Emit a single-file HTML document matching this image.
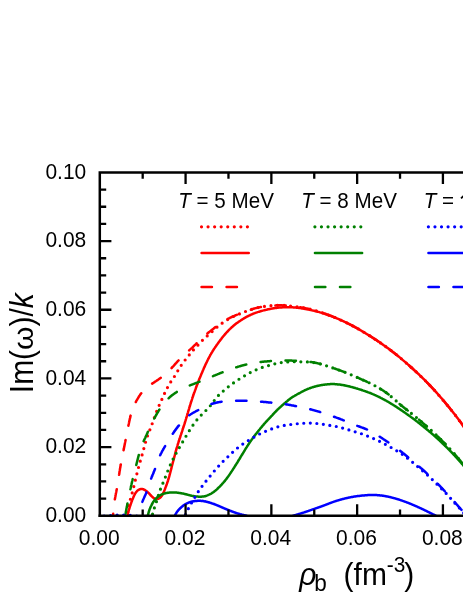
<!DOCTYPE html>
<html><head><meta charset="utf-8"><title>chart</title>
<style>html,body{margin:0;padding:0;background:#fff;overflow:hidden;}svg{display:block;will-change:transform;}</style></head>
<body>
<svg width="463" height="599" viewBox="0 0 463 599">
<rect width="463" height="599" fill="#fff"/>
<defs><clipPath id="cp"><rect x="99.80" y="172.40" width="368.20" height="344.65"/></clipPath></defs>
<g clip-path="url(#cp)">
<path d="M127.5,515.8 L127.6,515.0 L127.6,514.3 L127.7,513.5 L127.8,512.8 L127.8,512.0 L127.9,511.3 L128.0,510.5 L128.1,509.8 L128.2,509.0 L128.3,508.3 L128.4,507.5 L128.5,506.8 L128.7,506.0 L128.8,505.3 L129.0,504.6 L129.1,503.8 L129.3,503.1 L129.5,502.4 L129.7,501.6 L129.9,500.9 L130.1,500.2 L130.3,499.4 L130.6,498.7 L130.8,498.0 L131.0,497.3 L131.2,496.5 L131.4,495.8 L131.6,495.1 L131.8,494.3 L132.0,493.6 L132.2,492.9 L132.4,492.1 L132.6,491.4 L132.7,490.7 L132.9,490.0 L133.1,489.2 L133.3,488.5 L133.5,487.8 L133.7,487.0 L133.9,486.3 L134.0,485.6 L134.2,484.8 L134.4,484.1 L134.6,483.3 L134.7,482.6 L134.9,481.9 L135.1,481.1 L135.3,480.4 L135.4,479.7 L135.6,478.9 L135.8,478.2 L136.0,477.5 L136.2,476.7 L136.3,476.0 L136.5,475.3 L136.7,474.5 L136.9,473.8 L137.1,473.1 L137.2,472.3 L137.4,471.6 L137.6,470.9 L137.8,470.1 L138.0,469.4 L138.2,468.7 L138.4,467.9 L138.6,467.2 L138.8,466.5 L139.0,465.7 L139.2,465.0 L139.4,464.3 L139.6,463.6 L139.8,462.8 L140.0,462.1 L140.2,461.4 L140.4,460.6 L140.6,459.9 L140.8,459.2 L141.0,458.5 L141.2,457.7 L141.5,457.0 L141.7,456.3 L141.9,455.6 L142.1,454.8 L142.3,454.1 L142.5,453.4 L142.7,452.6 L142.9,451.9 L143.1,451.2 L143.3,450.5 L143.5,449.7 L143.7,449.0 L143.9,448.3 L144.1,447.5 L144.3,446.8 L144.5,446.1 L144.7,445.3 L144.9,444.6 L145.1,443.9 L145.3,443.2 L145.5,442.4 L145.7,441.7 L145.9,441.0 L146.1,440.2 L146.4,439.5 L146.6,438.8 L146.8,438.1 L147.0,437.4 L147.3,436.6 L147.5,435.9 L147.8,435.2 L148.0,434.5 L148.3,433.8 L148.6,433.1 L148.8,432.4 L149.1,431.7 L149.4,431.0 L149.7,430.3 L150.0,429.6 L150.2,428.9 L150.5,428.2 L150.8,427.5 L151.1,426.8 L151.3,426.1 L151.6,425.3 L151.9,424.6 L152.1,423.9 L152.4,423.2 L152.7,422.5 L152.9,421.8 L153.2,421.1 L153.4,420.4 L153.7,419.7 L153.9,418.9 L154.2,418.2 L154.4,417.5 L154.7,416.8 L154.9,416.1 L155.2,415.4 L155.4,414.7 L155.7,413.9 L155.9,413.2 L156.2,412.5 L156.5,411.8 L156.8,411.1 L157.0,410.4 L157.3,409.7 L157.6,409.0 L157.9,408.3 L158.2,407.6 L158.5,406.9 L158.8,406.2 L159.1,405.5 L159.4,404.8 L159.7,404.2 L160.0,403.5 L160.3,402.8 L160.6,402.1 L161.0,401.4 L161.3,400.7 L161.6,400.0 L161.9,399.3 L162.2,398.6 L162.5,398.0 L162.8,397.3 L163.2,396.6 L163.5,395.9 L163.8,395.2 L164.1,394.5 L164.4,393.8 L164.7,393.1 L165.0,392.4 L165.3,391.8 L165.7,391.1 L166.0,390.4 L166.3,389.7 L166.7,389.0 L167.0,388.4 L167.4,387.7 L167.7,387.0 L168.1,386.4 L168.5,385.7 L168.8,385.0 L169.2,384.4 L169.6,383.7 L170.0,383.1 L170.4,382.5 L170.8,381.8 L171.2,381.2 L171.7,380.6 L172.1,379.9 L172.5,379.3 L173.0,378.7 L173.4,378.1 L173.8,377.5 L174.2,376.8 L174.6,376.2 L175.0,375.5 L175.4,374.9 L175.8,374.2 L176.2,373.6 L176.6,372.9 L176.9,372.3 L177.3,371.6 L177.7,371.0 L178.1,370.3 L178.4,369.7 L178.8,369.0 L179.2,368.4 L179.6,367.7 L180.1,367.1 L180.5,366.5 L180.9,365.8 L181.3,365.2 L181.8,364.6 L182.2,364.0 L182.6,363.4 L183.1,362.7 L183.5,362.1 L184.0,361.5 L184.4,360.9 L184.9,360.3 L185.4,359.7 L185.8,359.1 L186.3,358.5 L186.8,358.0 L187.3,357.4 L187.7,356.8 L188.2,356.2 L188.7,355.6 L189.2,355.0 L189.7,354.4 L190.1,353.9 L190.6,353.3 L191.1,352.7 L191.6,352.1 L192.0,351.5 L192.5,350.9 L193.0,350.4 L193.5,349.8 L194.0,349.2 L194.5,348.7 L195.0,348.1 L195.5,347.5 L196.1,347.0 L196.6,346.5 L197.1,345.9 L197.7,345.4 L198.2,344.8 L198.7,344.3 L199.2,343.7 L199.8,343.2 L200.3,342.6 L200.8,342.1 L201.3,341.5 L201.8,341.0 L202.4,340.4 L202.9,339.9 L203.4,339.4 L204.0,338.8 L204.5,338.3 L205.1,337.8 L205.6,337.3 L206.2,336.8 L206.8,336.3 L207.3,335.8 L207.9,335.3 L208.5,334.8 L209.0,334.3 L209.6,333.8 L210.2,333.3 L210.7,332.8 L211.3,332.3 L211.9,331.8 L212.4,331.3 L213.0,330.8 L213.5,330.3 L214.1,329.8 L214.7,329.2 L215.2,328.7 L215.8,328.2 L216.4,327.7 L216.9,327.2 L217.5,326.8 L218.1,326.3 L218.7,325.8 L219.3,325.3 L219.8,324.8 L220.4,324.4 L221.1,323.9 L221.7,323.5 L222.3,323.0 L222.9,322.6 L223.5,322.2 L224.1,321.7 L224.8,321.3 L225.4,320.9 L226.1,320.5 L226.7,320.1 L227.4,319.7 L228.0,319.3 L228.7,319.0 L229.3,318.6 L230.0,318.2 L230.7,317.9 L231.3,317.5 L232.0,317.2 L232.7,316.9 L233.4,316.5 L234.1,316.2 L234.7,315.9 L235.4,315.6 L236.1,315.3 L236.8,315.0 L237.5,314.7 L238.2,314.4 L238.9,314.1 L239.6,313.8 L240.3,313.5 L241.0,313.2 L241.7,313.0 L242.4,312.7 L243.1,312.4 L243.8,312.1 L244.5,311.8 L245.2,311.6 L246.0,311.3 L246.7,311.0 L247.4,310.8 L248.1,310.5 L248.8,310.3 L249.5,310.0 L250.2,309.8 L250.9,309.5 L251.7,309.3 L252.4,309.1 L253.1,308.9 L253.8,308.6 L254.6,308.4 L255.3,308.2 L256.0,308.1 L256.8,307.9 L257.5,307.7 L258.2,307.5 L259.0,307.4 L259.7,307.2 L260.5,307.1 L261.2,307.0 L261.9,306.8 L262.7,306.7 L263.4,306.6 L264.2,306.5 L264.9,306.4 L265.7,306.3 L266.4,306.2 L267.2,306.1 L267.9,306.0 L268.7,305.9 L269.5,305.8 L270.2,305.7 L271.0,305.7 L271.7,305.6 L272.5,305.5 L273.2,305.5 L274.0,305.4 L274.7,305.4 L275.5,305.4 L276.3,305.3 L277.0,305.3 L277.8,305.3 L278.5,305.3 L279.3,305.3 L280.0,305.3 L280.8,305.3 L281.5,305.3 L282.3,305.4 L283.1,305.4 L283.8,305.4 L284.6,305.5 L285.3,305.6 L286.1,305.6 L286.8,305.7 L287.6,305.7 L288.3,305.8 L289.1,305.9 L289.8,306.0 L290.6,306.1 L291.3,306.1 L292.1,306.2 L292.8,306.3 L293.6,306.4 L294.4,306.5 L295.1,306.6 L295.9,306.7 L296.6,306.8 L297.4,306.9 L298.1,307.0 L298.9,307.1 L299.6,307.2 L300.4,307.3 L301.1,307.4 L301.8,307.5 L302.6,307.7 L303.3,307.8 L304.1,307.9 L304.8,308.1 L305.6,308.2 L306.3,308.4 L307.0,308.5 L307.8,308.7 L308.5,308.8 L309.3,309.0 L310.0,309.2 L310.7,309.4 L311.5,309.5 L312.2,309.7 L312.9,309.9 L313.7,310.1 L314.4,310.3 L315.1,310.5 L315.8,310.7 L316.6,311.0 L317.3,311.2 L318.0,311.4 L318.7,311.6 L319.5,311.8 L320.2,312.1 L320.9,312.3 L321.6,312.5 L322.3,312.8 L323.1,313.0 L323.8,313.3 L324.5,313.5 L325.2,313.8 L325.9,314.0 L326.6,314.3 L327.3,314.5 L328.1,314.8 L328.8,315.1 L329.5,315.3 L330.2,315.6 L330.9,315.9 L331.6,316.1 L332.3,316.4 L333.0,316.7 L333.7,317.0 L334.4,317.3 L335.1,317.5 L335.8,317.8 L336.5,318.1 L337.2,318.4 L337.9,318.7 L338.6,319.0 L339.3,319.3 L340.0,319.6 L340.6,320.0 L341.3,320.3 L342.0,320.6 L342.7,320.9 L343.4,321.2 L344.1,321.6 L344.8,321.9 L345.4,322.2 L346.1,322.5 L346.8,322.9 L347.5,323.2 L348.2,323.5 L348.8,323.9 L349.5,324.2 L350.2,324.6 L350.9,324.9 L351.5,325.3 L352.2,325.6 L352.9,326.0 L353.5,326.3 L354.2,326.7 L354.9,327.0 L355.5,327.4 L356.2,327.8 L356.9,328.1 L357.5,328.5 L358.2,328.9 L358.8,329.2 L359.5,329.6 L360.1,330.0 L360.8,330.4 L361.4,330.8 L362.1,331.2 L362.7,331.5 L363.4,331.9 L364.0,332.3 L364.7,332.7 L365.3,333.1 L366.0,333.5 L366.6,333.9 L367.3,334.3 L367.9,334.7 L368.6,335.1 L369.2,335.5 L369.8,335.9 L370.5,336.3 L371.1,336.7 L371.8,337.1 L372.4,337.5 L373.0,337.9 L373.7,338.3 L374.3,338.7 L374.9,339.2 L375.6,339.6 L376.2,340.0 L376.8,340.4 L377.4,340.8 L378.1,341.3 L378.7,341.7 L379.3,342.1 L379.9,342.5 L380.6,343.0 L381.2,343.4 L381.8,343.8 L382.4,344.3 L383.0,344.7 L383.7,345.1 L384.3,345.6 L384.9,346.0 L385.5,346.5 L386.1,346.9 L386.7,347.4 L387.3,347.8 L388.0,348.2 L388.6,348.7 L389.2,349.1 L389.8,349.6 L390.4,350.1 L391.0,350.5 L391.6,351.0 L392.2,351.4 L392.8,351.9 L393.4,352.3 L394.0,352.8 L394.6,353.3 L395.2,353.7 L395.8,354.2 L396.4,354.7 L397.0,355.2 L397.5,355.6 L398.1,356.1 L398.7,356.6 L399.3,357.1 L399.9,357.6 L400.5,358.0 L401.0,358.5 L401.6,359.0 L402.2,359.5 L402.8,360.0 L403.3,360.5 L403.9,361.0 L404.5,361.5 L405.1,362.0 L405.6,362.5 L406.2,363.0 L406.8,363.4 L407.4,363.9 L407.9,364.4 L408.5,364.9 L409.1,365.4 L409.6,365.9 L410.2,366.4 L410.8,367.0 L411.3,367.5 L411.9,368.0 L412.4,368.5 L413.0,369.0 L413.6,369.5 L414.1,370.0 L414.7,370.5 L415.2,371.0 L415.8,371.5 L416.3,372.0 L416.9,372.6 L417.5,373.1 L418.0,373.6 L418.6,374.1 L419.1,374.6 L419.6,375.2 L420.2,375.7 L420.7,376.2 L421.3,376.7 L421.8,377.3 L422.4,377.8 L422.9,378.3 L423.4,378.9 L424.0,379.4 L424.5,379.9 L425.1,380.5 L425.6,381.0 L426.1,381.5 L426.6,382.1 L427.2,382.6 L427.7,383.1 L428.2,383.7 L428.8,384.2 L429.3,384.8 L429.8,385.3 L430.3,385.9 L430.8,386.4 L431.4,387.0 L431.9,387.5 L432.4,388.1 L432.9,388.6 L433.4,389.2 L433.9,389.7 L434.5,390.3 L435.0,390.9 L435.5,391.4 L436.0,392.0 L436.5,392.5 L437.0,393.1 L437.5,393.7 L438.0,394.2 L438.5,394.8 L439.0,395.4 L439.5,395.9 L440.0,396.5 L440.5,397.1 L441.0,397.7 L441.5,398.2 L442.0,398.8 L442.5,399.4 L442.9,400.0 L443.4,400.5 L443.9,401.1 L444.4,401.7 L444.9,402.3 L445.4,402.9 L445.9,403.4 L446.3,404.0 L446.8,404.6 L447.3,405.2 L447.8,405.8 L448.3,406.4 L448.7,406.9 L449.2,407.5 L449.7,408.1 L450.2,408.7 L450.6,409.3 L451.1,409.9 L451.6,410.5 L452.1,411.1 L452.5,411.7 L453.0,412.2 L453.5,412.8 L453.9,413.4 L454.4,414.0 L454.9,414.6 L455.3,415.2 L455.8,415.8 L456.3,416.4 L456.7,417.0 L457.2,417.6 L457.6,418.2 L458.1,418.8 L458.5,419.4 L459.0,420.0 L459.4,420.7 L459.9,421.3 L460.4,421.9 L460.8,422.5 L461.2,423.1 L461.7,423.7 L462.1,424.3 L462.6,424.9 L463.0,425.5 L463.5,426.1 L463.9,426.8 L464.3,427.4 L464.8,428.0 L465.2,428.6 L465.7,429.2 L466.1,429.9 L466.5,430.5 L467.0,431.1 L467.4,431.7 L467.8,432.3 L468.2,433.0 L468.7,433.6 L469.1,434.2 L469.5,434.8 L469.9,435.5 L470.4,436.1 L470.8,436.7 L471.2,437.3 L471.6,438.0 L472.1,438.6 L472.5,439.2 L472.9,439.9 L473.3,440.5 L473.7,441.1 L474.2,441.7 L474.6,442.4 L475.0,443.0" fill="none" stroke="#ff0000" stroke-width="3.20" stroke-linejoin="round" stroke-linecap="round" stroke-dasharray="0 6.56" stroke-dashoffset="2.80"/>
<path d="M113.0,515.8 L113.1,515.0 L113.1,514.3 L113.2,513.5 L113.3,512.7 L113.3,511.9 L113.4,511.2 L113.5,510.4 L113.5,509.6 L113.6,508.8 L113.7,508.1 L113.8,507.3 L113.9,506.5 L114.0,505.7 L114.0,505.0 L114.1,504.2 L114.2,503.4 L114.3,502.7 L114.5,501.9 L114.6,501.1 L114.7,500.4 L114.8,499.6 L114.9,498.8 L115.1,498.1 L115.2,497.3 L115.4,496.5 L115.5,495.8 L115.6,495.0 L115.8,494.2 L115.9,493.5 L116.1,492.7 L116.2,492.0 L116.4,491.2 L116.5,490.4 L116.7,489.7 L116.8,488.9 L116.9,488.1 L117.1,487.4 L117.2,486.6 L117.3,485.8 L117.5,485.1 L117.6,484.3 L117.7,483.5 L117.8,482.8 L118.0,482.0 L118.1,481.2 L118.2,480.5 L118.3,479.7 L118.4,478.9 L118.6,478.2 L118.7,477.4 L118.8,476.6 L118.9,475.9 L119.0,475.1 L119.2,474.3 L119.3,473.6 L119.4,472.8 L119.5,472.0 L119.6,471.3 L119.8,470.5 L119.9,469.7 L120.0,469.0 L120.1,468.2 L120.3,467.4 L120.4,466.7 L120.5,465.9 L120.7,465.1 L120.8,464.4 L120.9,463.6 L121.1,462.8 L121.2,462.1 L121.4,461.3 L121.5,460.6 L121.7,459.8 L121.8,459.0 L122.0,458.3 L122.1,457.5 L122.3,456.7 L122.4,456.0 L122.6,455.2 L122.7,454.4 L122.9,453.7 L123.0,452.9 L123.2,452.2 L123.3,451.4 L123.5,450.6 L123.6,449.9 L123.8,449.1 L123.9,448.4 L124.1,447.6 L124.2,446.8 L124.4,446.1 L124.5,445.3 L124.7,444.6 L124.8,443.8 L125.0,443.0 L125.1,442.3 L125.3,441.5 L125.4,440.7 L125.6,440.0 L125.7,439.2 L125.9,438.5 L126.0,437.7 L126.2,436.9 L126.3,436.2 L126.5,435.4 L126.6,434.7 L126.8,433.9 L126.9,433.1 L127.1,432.4 L127.2,431.6 L127.4,430.8 L127.5,430.1 L127.7,429.3 L127.8,428.6 L128.0,427.8 L128.1,427.0 L128.3,426.3 L128.4,425.5 L128.6,424.7 L128.8,424.0 L128.9,423.2 L129.1,422.5 L129.2,421.7 L129.4,420.9 L129.6,420.2 L129.7,419.4 L129.9,418.6 L130.1,417.9 L130.3,417.1 L130.4,416.4 L130.6,415.6 L130.8,414.9 L131.0,414.1 L131.2,413.4 L131.4,412.6 L131.7,411.9 L131.9,411.1 L132.1,410.4 L132.4,409.7 L132.6,408.9 L132.9,408.2 L133.2,407.5 L133.5,406.8 L133.8,406.1 L134.1,405.4 L134.5,404.7 L134.8,404.0 L135.1,403.3 L135.5,402.6 L135.9,401.9 L136.2,401.2 L136.6,400.5 L137.0,399.8 L137.4,399.2 L137.8,398.5 L138.2,397.8 L138.6,397.1 L139.0,396.5 L139.4,395.8 L139.9,395.2 L140.3,394.5 L140.8,393.9 L141.2,393.3 L141.7,392.6 L142.2,392.0 L142.7,391.4 L143.2,390.9 L143.7,390.3 L144.3,389.7 L144.8,389.2 L145.4,388.7 L146.0,388.2 L146.5,387.7 L147.2,387.2 L147.8,386.7 L148.4,386.3 L149.0,385.8 L149.7,385.3 L150.3,384.9 L150.9,384.5 L151.6,384.0 L152.2,383.6 L152.9,383.2 L153.6,382.7 L154.2,382.3 L154.9,381.9 L155.5,381.4 L156.2,381.0 L156.8,380.6 L157.5,380.1 L158.1,379.7 L158.7,379.3 L159.4,378.8 L160.0,378.4 L160.6,377.9 L161.3,377.4 L161.9,377.0 L162.5,376.5 L163.1,376.0 L163.7,375.5 L164.3,375.1 L164.9,374.5 L165.5,374.0 L166.0,373.5 L166.6,373.0 L167.2,372.5 L167.8,371.9 L168.3,371.4 L168.9,370.8 L169.4,370.3 L170.0,369.7 L170.5,369.2 L171.0,368.6 L171.6,368.0 L172.1,367.5 L172.6,366.9 L173.2,366.3 L173.7,365.8 L174.2,365.2 L174.7,364.6 L175.2,364.0 L175.8,363.4 L176.3,362.9 L176.8,362.3 L177.3,361.7 L177.8,361.1 L178.4,360.6 L178.9,360.0 L179.4,359.4 L180.0,358.9 L180.5,358.3 L181.0,357.7 L181.6,357.2 L182.1,356.6 L182.7,356.1 L183.3,355.6 L183.8,355.1 L184.4,354.5 L185.0,354.0 L185.6,353.5 L186.2,353.0 L186.8,352.5 L187.3,352.0 L187.9,351.5 L188.5,351.0 L189.1,350.5 L189.7,349.9 L190.3,349.4 L190.8,348.9 L191.4,348.4 L192.0,347.9 L192.6,347.3 L193.1,346.8 L193.7,346.2 L194.2,345.7 L194.8,345.1 L195.3,344.6 L195.9,344.1 L196.4,343.5 L197.0,343.0 L197.5,342.4 L198.1,341.9 L198.6,341.3 L199.2,340.8 L199.7,340.2 L200.3,339.7 L200.9,339.1 L201.4,338.6 L202.0,338.1 L202.6,337.6 L203.2,337.1 L203.7,336.5 L204.3,336.0 L204.9,335.5 L205.5,335.0 L206.1,334.5 L206.7,334.0 L207.3,333.5 L207.9,333.0 L208.5,332.5 L209.1,332.1 L209.7,331.6 L210.3,331.1 L210.9,330.6 L211.5,330.1 L212.1,329.6 L212.7,329.2 L213.4,328.7 L214.0,328.2 L214.6,327.7 L215.2,327.2 L215.8,326.8 L216.4,326.3 L217.1,325.8 L217.7,325.4 L218.3,324.9 L219.0,324.5 L219.6,324.0 L220.2,323.6 L220.9,323.1 L221.5,322.7 L222.2,322.3 L222.8,321.9 L223.5,321.4 L224.1,321.0 L224.8,320.6 L225.5,320.2 L226.2,319.9 L226.8,319.5 L227.5,319.1 L228.2,318.7 L228.9,318.4 L229.6,318.0 L230.3,317.7 L231.0,317.3 L231.7,317.0 L232.4,316.7 L233.1,316.4 L233.8,316.1 L234.5,315.8 L235.2,315.5 L235.9,315.2 L236.7,314.9 L237.4,314.6 L238.1,314.3 L238.8,314.0 L239.6,313.7 L240.3,313.5 L241.0,313.2 L241.8,312.9 L242.5,312.6 L243.2,312.4 L243.9,312.1 L244.7,311.8 L245.4,311.5 L246.1,311.3 L246.9,311.0 L247.6,310.7 L248.3,310.5 L249.0,310.2 L249.8,310.0 L250.5,309.7 L251.3,309.5 L252.0,309.2 L252.7,309.0 L253.5,308.8 L254.2,308.5 L255.0,308.3 L255.7,308.1 L256.5,307.9 L257.2,307.8 L258.0,307.6 L258.7,307.4 L259.5,307.3 L260.3,307.1 L261.0,307.0 L261.8,306.8 L262.6,306.7 L263.3,306.6 L264.1,306.5 L264.9,306.4 L265.6,306.3 L266.4,306.2 L267.2,306.1 L268.0,306.0 L268.7,305.9 L269.5,305.8 L270.3,305.7 L271.1,305.7 L271.8,305.6 L272.6,305.5 L273.4,305.5 L274.2,305.4 L274.9,305.4 L275.7,305.4 L276.5,305.3 L277.3,305.3 L278.0,305.3 L278.8,305.3 L279.6,305.3 L280.4,305.3 L281.1,305.3 L281.9,305.3 L282.7,305.4 L283.5,305.4 L284.2,305.5 L285.0,305.5 L285.8,305.6 L286.6,305.7 L287.3,305.7 L288.1,305.8 L288.9,305.9 L289.7,306.0 L290.4,306.0 L291.2,306.1 L292.0,306.2 L292.8,306.3 L293.5,306.4 L294.3,306.5 L295.1,306.6 L295.8,306.7 L296.6,306.8 L297.4,306.9 L298.1,307.0 L298.9,307.1 L299.7,307.2 L300.5,307.3 L301.2,307.4 L302.0,307.6 L302.8,307.7 L303.5,307.8 L304.3,308.0 L305.0,308.1 L305.8,308.3 L306.6,308.4 L307.3,308.6 L308.1,308.7 L308.8,308.9 L309.6,309.1 L310.4,309.3 L311.1,309.5 L311.9,309.7 L312.6,309.8 L313.4,310.0 L314.1,310.3 L314.9,310.5 L315.6,310.7 L316.4,310.9 L317.1,311.1 L317.8,311.3 L318.6,311.6 L319.3,311.8 L320.1,312.0 L320.8,312.3 L321.5,312.5 L322.3,312.8 L323.0,313.0 L323.8,313.3 L324.5,313.5 L325.2,313.8 L326.0,314.0 L326.7,314.3 L327.4,314.6 L328.1,314.8 L328.9,315.1 L329.6,315.4 L330.3,315.6 L331.1,315.9 L331.8,316.2 L332.5,316.5 L333.2,316.8 L333.9,317.1 L334.7,317.4 L335.4,317.7 L336.1,318.0 L336.8,318.3 L337.5,318.6 L338.2,318.9 L338.9,319.2 L339.7,319.5 L340.4,319.8 L341.1,320.2 L341.8,320.5 L342.5,320.8 L343.2,321.1 L343.9,321.5 L344.6,321.8 L345.3,322.1 L346.0,322.5 L346.7,322.8 L347.4,323.2 L348.1,323.5 L348.8,323.9 L349.5,324.2 L350.2,324.6 L350.9,324.9 L351.5,325.3 L352.2,325.6 L352.9,326.0 L353.6,326.3 L354.3,326.7 L355.0,327.1 L355.7,327.5 L356.3,327.8 L357.0,328.2 L357.7,328.6 L358.4,329.0 L359.0,329.4 L359.7,329.8 L360.4,330.1 L361.1,330.5 L361.7,330.9 L362.4,331.3 L363.1,331.7 L363.7,332.1 L364.4,332.5 L365.1,332.9 L365.7,333.3 L366.4,333.7 L367.0,334.1 L367.7,334.6 L368.4,335.0 L369.0,335.4 L369.7,335.8 L370.3,336.2 L371.0,336.6 L371.7,337.0 L372.3,337.4 L373.0,337.9 L373.6,338.3 L374.3,338.7 L374.9,339.1 L375.6,339.6 L376.2,340.0 L376.9,340.4 L377.5,340.9 L378.1,341.3 L378.8,341.7 L379.4,342.2 L380.1,342.6 L380.7,343.1 L381.3,343.5 L382.0,343.9 L382.6,344.4 L383.2,344.8 L383.9,345.3 L384.5,345.7 L385.1,346.2 L385.8,346.7 L386.4,347.1 L387.0,347.6 L387.7,348.0 L388.3,348.5 L388.9,348.9 L389.5,349.4 L390.2,349.9 L390.8,350.3 L391.4,350.8 L392.0,351.3 L392.6,351.8 L393.2,352.2 L393.9,352.7 L394.5,353.2 L395.1,353.7 L395.7,354.1 L396.3,354.6 L396.9,355.1 L397.5,355.6 L398.1,356.1 L398.7,356.6 L399.3,357.1 L399.9,357.6 L400.5,358.1 L401.1,358.6 L401.7,359.1 L402.3,359.6 L402.9,360.1 L403.5,360.6 L404.1,361.1 L404.6,361.6 L405.2,362.1 L405.8,362.6 L406.4,363.1 L407.0,363.6 L407.6,364.1 L408.2,364.7 L408.7,365.2 L409.3,365.7 L409.9,366.2 L410.5,366.7 L411.1,367.2 L411.6,367.7 L412.2,368.3 L412.8,368.8 L413.4,369.3 L413.9,369.8 L414.5,370.4 L415.1,370.9 L415.7,371.4 L416.2,371.9 L416.8,372.5 L417.4,373.0 L417.9,373.5 L418.5,374.1 L419.1,374.6 L419.6,375.1 L420.2,375.7 L420.7,376.2 L421.3,376.8 L421.9,377.3 L422.4,377.8 L423.0,378.4 L423.5,378.9 L424.1,379.5 L424.6,380.0 L425.2,380.6 L425.7,381.1 L426.3,381.7 L426.8,382.2 L427.4,382.8 L427.9,383.3 L428.4,383.9 L429.0,384.5 L429.5,385.0 L430.1,385.6 L430.6,386.1 L431.1,386.7 L431.7,387.3 L432.2,387.8 L432.7,388.4 L433.2,389.0 L433.8,389.6 L434.3,390.1 L434.8,390.7 L435.3,391.3 L435.9,391.8 L436.4,392.4 L436.9,393.0 L437.4,393.6 L437.9,394.2 L438.4,394.7 L439.0,395.3 L439.5,395.9 L440.0,396.5 L440.5,397.1 L441.0,397.7 L441.5,398.3 L442.0,398.9 L442.5,399.4 L443.0,400.0 L443.5,400.6 L444.0,401.2 L444.5,401.8 L445.0,402.4 L445.5,403.0 L446.0,403.6 L446.5,404.2 L447.0,404.8 L447.5,405.4 L448.0,406.0 L448.5,406.6 L449.0,407.2 L449.5,407.8 L449.9,408.4 L450.4,409.0 L450.9,409.6 L451.4,410.2 L451.9,410.8 L452.4,411.4 L452.9,412.1 L453.3,412.7 L453.8,413.3 L454.3,413.9 L454.8,414.5 L455.2,415.1 L455.7,415.7 L456.2,416.3 L456.7,417.0 L457.1,417.6 L457.6,418.2 L458.1,418.8 L458.5,419.4 L459.0,420.1 L459.5,420.7 L459.9,421.3 L460.4,421.9 L460.9,422.6 L461.3,423.2 L461.8,423.8 L462.2,424.4 L462.7,425.1 L463.1,425.7 L463.6,426.3 L464.1,427.0 L464.5,427.6 L465.0,428.2 L465.4,428.9 L465.8,429.5 L466.3,430.1 L466.7,430.8 L467.2,431.4 L467.6,432.1 L468.1,432.7 L468.5,433.3 L468.9,434.0 L469.4,434.6 L469.8,435.3 L470.2,435.9 L470.7,436.5 L471.1,437.2 L471.5,437.8 L472.0,438.5 L472.4,439.1 L472.8,439.8 L473.3,440.4 L473.7,441.1 L474.1,441.7 L474.6,442.4 L475.0,443.0" fill="none" stroke="#ff0000" stroke-width="2.50" stroke-linejoin="round" stroke-linecap="round" stroke-dasharray="10.40 14.60" stroke-dashoffset="8.45"/>
<path d="M127.3,515.8 L127.5,515.1 L127.7,514.3 L127.9,513.6 L128.1,512.8 L128.3,512.1 L128.5,511.3 L128.7,510.6 L128.9,509.8 L129.2,509.1 L129.4,508.3 L129.6,507.6 L129.8,506.9 L130.1,506.1 L130.3,505.4 L130.6,504.7 L130.8,504.0 L131.1,503.2 L131.3,502.5 L131.6,501.8 L131.9,501.1 L132.1,500.3 L132.4,499.6 L132.7,498.9 L133.0,498.2 L133.3,497.4 L133.6,496.7 L133.9,496.0 L134.3,495.3 L134.6,494.6 L135.0,493.9 L135.4,493.2 L135.8,492.6 L136.3,491.9 L136.8,491.4 L137.3,490.8 L138.0,490.3 L138.6,489.9 L139.3,489.5 L140.1,489.2 L140.8,489.1 L141.6,489.0 L142.3,489.1 L143.1,489.2 L143.8,489.5 L144.5,489.8 L145.2,490.2 L145.9,490.7 L146.6,491.2 L147.2,491.7 L147.7,492.2 L148.3,492.7 L148.8,493.3 L149.4,493.8 L149.9,494.4 L150.4,495.0 L150.9,495.5 L151.5,496.1 L152.1,496.7 L152.7,497.3 L153.3,497.8 L153.9,498.2 L154.6,498.6 L155.3,498.8 L156.1,499.0 L156.8,499.0 L157.6,498.9 L158.4,498.7 L159.1,498.3 L159.8,497.9 L160.4,497.5 L160.9,496.9 L161.4,496.3 L161.9,495.7 L162.3,495.0 L162.6,494.3 L163.0,493.5 L163.3,492.8 L163.7,492.1 L164.0,491.4 L164.3,490.7 L164.6,490.0 L164.9,489.2 L165.2,488.5 L165.4,487.8 L165.7,487.1 L166.0,486.4 L166.2,485.7 L166.5,484.9 L166.8,484.2 L167.0,483.5 L167.3,482.8 L167.5,482.0 L167.8,481.3 L168.0,480.6 L168.2,479.8 L168.5,479.1 L168.7,478.3 L168.9,477.6 L169.1,476.9 L169.3,476.1 L169.5,475.4 L169.7,474.6 L169.9,473.9 L170.1,473.1 L170.3,472.4 L170.5,471.6 L170.7,470.9 L170.9,470.1 L171.1,469.4 L171.3,468.6 L171.5,467.9 L171.6,467.1 L171.8,466.4 L172.0,465.6 L172.2,464.9 L172.4,464.1 L172.6,463.4 L172.8,462.6 L173.0,461.9 L173.2,461.1 L173.4,460.4 L173.6,459.6 L173.8,458.9 L174.0,458.1 L174.2,457.4 L174.4,456.6 L174.6,455.9 L174.8,455.1 L175.0,454.4 L175.2,453.6 L175.4,452.9 L175.6,452.2 L175.8,451.4 L176.0,450.7 L176.2,449.9 L176.4,449.2 L176.6,448.4 L176.8,447.7 L177.1,446.9 L177.3,446.2 L177.5,445.5 L177.7,444.7 L177.9,444.0 L178.2,443.2 L178.4,442.5 L178.6,441.8 L178.9,441.0 L179.1,440.3 L179.3,439.6 L179.6,438.8 L179.8,438.1 L180.1,437.4 L180.3,436.6 L180.5,435.9 L180.8,435.1 L181.0,434.4 L181.3,433.7 L181.5,432.9 L181.8,432.2 L182.0,431.5 L182.3,430.7 L182.5,430.0 L182.7,429.3 L183.0,428.5 L183.2,427.8 L183.5,427.1 L183.7,426.3 L183.9,425.6 L184.2,424.9 L184.4,424.1 L184.7,423.4 L184.9,422.7 L185.1,421.9 L185.3,421.2 L185.6,420.4 L185.8,419.7 L186.0,419.0 L186.2,418.2 L186.5,417.5 L186.7,416.7 L186.9,416.0 L187.1,415.3 L187.3,414.5 L187.6,413.8 L187.8,413.0 L188.0,412.3 L188.2,411.5 L188.4,410.8 L188.7,410.1 L188.9,409.3 L189.1,408.6 L189.3,407.8 L189.5,407.1 L189.8,406.3 L190.0,405.6 L190.2,404.9 L190.4,404.1 L190.7,403.4 L190.9,402.7 L191.1,401.9 L191.4,401.2 L191.6,400.4 L191.9,399.7 L192.1,399.0 L192.3,398.2 L192.6,397.5 L192.8,396.8 L193.1,396.0 L193.3,395.3 L193.6,394.6 L193.8,393.8 L194.1,393.1 L194.3,392.4 L194.6,391.7 L194.9,390.9 L195.1,390.2 L195.4,389.5 L195.7,388.7 L195.9,388.0 L196.2,387.3 L196.5,386.6 L196.7,385.8 L197.0,385.1 L197.3,384.4 L197.6,383.7 L197.8,383.0 L198.1,382.2 L198.4,381.5 L198.7,380.8 L199.0,380.1 L199.2,379.3 L199.5,378.6 L199.8,377.9 L200.1,377.2 L200.4,376.5 L200.7,375.8 L201.0,375.0 L201.3,374.3 L201.6,373.6 L201.9,372.9 L202.2,372.2 L202.5,371.5 L202.8,370.8 L203.1,370.1 L203.4,369.4 L203.7,368.6 L204.0,367.9 L204.4,367.2 L204.7,366.5 L205.0,365.8 L205.3,365.1 L205.6,364.4 L206.0,363.7 L206.3,363.0 L206.6,362.3 L207.0,361.6 L207.3,360.9 L207.6,360.2 L208.0,359.5 L208.3,358.8 L208.7,358.2 L209.0,357.5 L209.4,356.8 L209.8,356.1 L210.1,355.4 L210.5,354.7 L210.9,354.1 L211.3,353.4 L211.7,352.7 L212.1,352.1 L212.5,351.4 L212.9,350.8 L213.3,350.1 L213.7,349.5 L214.1,348.8 L214.6,348.2 L215.0,347.5 L215.4,346.9 L215.9,346.2 L216.3,345.6 L216.8,345.0 L217.2,344.3 L217.7,343.7 L218.1,343.1 L218.6,342.5 L219.0,341.8 L219.5,341.2 L220.0,340.6 L220.4,340.0 L220.9,339.4 L221.4,338.7 L221.8,338.1 L222.3,337.5 L222.8,336.9 L223.3,336.3 L223.8,335.7 L224.3,335.1 L224.8,334.5 L225.3,334.0 L225.8,333.4 L226.3,332.8 L226.8,332.2 L227.4,331.7 L227.9,331.1 L228.4,330.5 L229.0,330.0 L229.5,329.4 L230.1,328.9 L230.6,328.4 L231.2,327.8 L231.8,327.3 L232.4,326.8 L232.9,326.3 L233.5,325.8 L234.1,325.3 L234.7,324.8 L235.3,324.3 L235.9,323.8 L236.5,323.3 L237.1,322.9 L237.8,322.4 L238.4,322.0 L239.0,321.5 L239.7,321.1 L240.3,320.7 L241.0,320.2 L241.6,319.8 L242.3,319.4 L242.9,319.0 L243.6,318.6 L244.3,318.2 L244.9,317.8 L245.6,317.4 L246.3,317.0 L247.0,316.7 L247.6,316.3 L248.3,316.0 L249.0,315.6 L249.7,315.3 L250.4,315.0 L251.1,314.6 L251.8,314.3 L252.6,314.0 L253.3,313.7 L254.0,313.4 L254.7,313.2 L255.4,312.9 L256.2,312.6 L256.9,312.4 L257.6,312.1 L258.4,311.9 L259.1,311.7 L259.8,311.5 L260.6,311.2 L261.3,311.0 L262.1,310.8 L262.8,310.6 L263.6,310.4 L264.3,310.2 L265.1,310.0 L265.8,309.9 L266.6,309.7 L267.3,309.5 L268.1,309.3 L268.9,309.2 L269.6,309.0 L270.4,308.9 L271.1,308.7 L271.9,308.6 L272.7,308.5 L273.4,308.3 L274.2,308.2 L274.9,308.1 L275.7,308.0 L276.5,307.9 L277.2,307.8 L278.0,307.7 L278.8,307.6 L279.6,307.5 L280.3,307.5 L281.1,307.4 L281.9,307.4 L282.6,307.3 L283.4,307.3 L284.2,307.2 L285.0,307.2 L285.7,307.2 L286.5,307.2 L287.3,307.2 L288.1,307.2 L288.8,307.2 L289.6,307.2 L290.4,307.2 L291.2,307.2 L291.9,307.3 L292.7,307.3 L293.5,307.4 L294.2,307.4 L295.0,307.5 L295.8,307.6 L296.6,307.7 L297.3,307.7 L298.1,307.8 L298.9,307.9 L299.6,308.0 L300.4,308.1 L301.2,308.3 L301.9,308.4 L302.7,308.5 L303.4,308.6 L304.2,308.8 L305.0,308.9 L305.7,309.0 L306.5,309.2 L307.3,309.3 L308.0,309.5 L308.8,309.6 L309.5,309.8 L310.3,309.9 L311.0,310.1 L311.8,310.3 L312.6,310.4 L313.3,310.6 L314.1,310.8 L314.8,311.0 L315.6,311.1 L316.3,311.3 L317.1,311.5 L317.8,311.7 L318.6,311.9 L319.3,312.1 L320.0,312.4 L320.8,312.6 L321.5,312.8 L322.3,313.0 L323.0,313.3 L323.7,313.5 L324.5,313.7 L325.2,314.0 L325.9,314.2 L326.7,314.5 L327.4,314.7 L328.1,315.0 L328.9,315.2 L329.6,315.5 L330.3,315.8 L331.0,316.0 L331.8,316.3 L332.5,316.6 L333.2,316.9 L333.9,317.2 L334.6,317.5 L335.4,317.7 L336.1,318.0 L336.8,318.3 L337.5,318.6 L338.2,318.9 L338.9,319.2 L339.6,319.6 L340.3,319.9 L341.1,320.2 L341.8,320.5 L342.5,320.8 L343.2,321.1 L343.9,321.5 L344.6,321.8 L345.3,322.1 L346.0,322.5 L346.7,322.8 L347.4,323.1 L348.1,323.5 L348.7,323.8 L349.4,324.2 L350.1,324.5 L350.8,324.9 L351.5,325.2 L352.2,325.6 L352.9,326.0 L353.6,326.3 L354.2,326.7 L354.9,327.1 L355.6,327.4 L356.3,327.8 L356.9,328.2 L357.6,328.6 L358.3,328.9 L359.0,329.3 L359.6,329.7 L360.3,330.1 L361.0,330.5 L361.6,330.9 L362.3,331.3 L363.0,331.7 L363.6,332.1 L364.3,332.5 L365.0,332.9 L365.6,333.3 L366.3,333.7 L366.9,334.1 L367.6,334.5 L368.2,334.9 L368.9,335.3 L369.6,335.7 L370.2,336.1 L370.9,336.5 L371.5,336.9 L372.2,337.4 L372.8,337.8 L373.5,338.2 L374.1,338.6 L374.8,339.0 L375.4,339.5 L376.1,339.9 L376.7,340.3 L377.3,340.8 L378.0,341.2 L378.6,341.6 L379.3,342.1 L379.9,342.5 L380.5,342.9 L381.2,343.4 L381.8,343.8 L382.4,344.3 L383.1,344.7 L383.7,345.2 L384.3,345.6 L385.0,346.1 L385.6,346.5 L386.2,347.0 L386.8,347.4 L387.5,347.9 L388.1,348.3 L388.7,348.8 L389.3,349.3 L390.0,349.7 L390.6,350.2 L391.2,350.7 L391.8,351.1 L392.4,351.6 L393.0,352.1 L393.6,352.5 L394.3,353.0 L394.9,353.5 L395.5,354.0 L396.1,354.5 L396.7,354.9 L397.3,355.4 L397.9,355.9 L398.5,356.4 L399.1,356.9 L399.7,357.4 L400.3,357.9 L400.9,358.4 L401.5,358.9 L402.0,359.4 L402.6,359.9 L403.2,360.4 L403.8,360.9 L404.4,361.4 L405.0,361.9 L405.6,362.4 L406.2,362.9 L406.7,363.4 L407.3,363.9 L407.9,364.4 L408.5,364.9 L409.1,365.4 L409.6,366.0 L410.2,366.5 L410.8,367.0 L411.4,367.5 L412.0,368.0 L412.5,368.5 L413.1,369.1 L413.7,369.6 L414.2,370.1 L414.8,370.6 L415.4,371.2 L415.9,371.7 L416.5,372.2 L417.1,372.7 L417.6,373.3 L418.2,373.8 L418.8,374.3 L419.3,374.9 L419.9,375.4 L420.4,375.9 L421.0,376.5 L421.6,377.0 L422.1,377.5 L422.7,378.1 L423.2,378.6 L423.8,379.2 L424.3,379.7 L424.9,380.3 L425.4,380.8 L426.0,381.4 L426.5,381.9 L427.0,382.5 L427.6,383.0 L428.1,383.6 L428.7,384.1 L429.2,384.7 L429.7,385.2 L430.3,385.8 L430.8,386.4 L431.3,386.9 L431.9,387.5 L432.4,388.1 L432.9,388.6 L433.4,389.2 L434.0,389.8 L434.5,390.3 L435.0,390.9 L435.5,391.5 L436.0,392.0 L436.6,392.6 L437.1,393.2 L437.6,393.8 L438.1,394.4 L438.6,394.9 L439.1,395.5 L439.6,396.1 L440.1,396.7 L440.6,397.3 L441.1,397.9 L441.7,398.4 L442.2,399.0 L442.7,399.6 L443.2,400.2 L443.7,400.8 L444.2,401.4 L444.7,402.0 L445.1,402.6 L445.6,403.2 L446.1,403.8 L446.6,404.4 L447.1,405.0 L447.6,405.6 L448.1,406.2 L448.6,406.8 L449.1,407.4 L449.6,408.0 L450.1,408.6 L450.5,409.2 L451.0,409.8 L451.5,410.4 L452.0,411.0 L452.5,411.6 L453.0,412.2 L453.4,412.8 L453.9,413.4 L454.4,414.0 L454.9,414.6 L455.3,415.2 L455.8,415.8 L456.3,416.5 L456.7,417.1 L457.2,417.7 L457.7,418.3 L458.2,418.9 L458.6,419.5 L459.1,420.2 L459.5,420.8 L460.0,421.4 L460.5,422.0 L460.9,422.6 L461.4,423.3 L461.8,423.9 L462.3,424.5 L462.7,425.1 L463.2,425.8 L463.6,426.4 L464.1,427.0 L464.5,427.7 L465.0,428.3 L465.4,428.9 L465.9,429.6 L466.3,430.2 L466.8,430.8 L467.2,431.5 L467.6,432.1 L468.1,432.7 L468.5,433.4 L469.0,434.0 L469.4,434.7 L469.8,435.3 L470.3,435.9 L470.7,436.6 L471.1,437.2 L471.6,437.9 L472.0,438.5 L472.4,439.1 L472.9,439.8 L473.3,440.4 L473.7,441.1 L474.1,441.7 L474.6,442.4 L475.0,443.0" fill="none" stroke="#ff0000" stroke-width="2.50" stroke-linejoin="round" stroke-linecap="round"/>
<path d="M152.2,515.8 L152.3,515.2 L152.5,514.6 L152.6,513.9 L152.8,513.3 L153.0,512.7 L153.1,512.1 L153.3,511.5 L153.4,510.9 L153.6,510.3 L153.8,509.7 L154.0,509.0 L154.2,508.4 L154.4,507.8 L154.6,507.2 L154.8,506.6 L155.0,506.0 L155.2,505.4 L155.4,504.8 L155.6,504.2 L155.8,503.6 L156.0,503.0 L156.2,502.4 L156.4,501.8 L156.6,501.2 L156.7,500.6 L156.9,500.0 L157.1,499.4 L157.3,498.8 L157.5,498.2 L157.7,497.6 L157.9,497.0 L158.1,496.3 L158.3,495.7 L158.4,495.1 L158.6,494.5 L158.8,493.9 L159.0,493.3 L159.2,492.7 L159.4,492.1 L159.6,491.5 L159.8,490.9 L160.1,490.3 L160.3,489.7 L160.5,489.1 L160.7,488.5 L161.0,487.9 L161.2,487.4 L161.4,486.8 L161.7,486.2 L161.9,485.6 L162.1,485.0 L162.4,484.4 L162.6,483.8 L162.9,483.2 L163.1,482.6 L163.3,482.1 L163.6,481.5 L163.8,480.9 L164.1,480.3 L164.3,479.7 L164.6,479.1 L164.8,478.5 L165.0,477.9 L165.3,477.3 L165.5,476.8 L165.7,476.2 L166.0,475.6 L166.2,475.0 L166.4,474.4 L166.7,473.8 L166.9,473.2 L167.1,472.6 L167.4,472.0 L167.6,471.4 L167.8,470.9 L168.1,470.3 L168.3,469.7 L168.6,469.1 L168.8,468.5 L169.0,467.9 L169.3,467.3 L169.5,466.7 L169.8,466.2 L170.0,465.6 L170.3,465.0 L170.5,464.4 L170.8,463.8 L171.1,463.3 L171.3,462.7 L171.6,462.1 L171.9,461.5 L172.1,461.0 L172.4,460.4 L172.7,459.8 L173.0,459.2 L173.3,458.7 L173.5,458.1 L173.8,457.5 L174.1,457.0 L174.4,456.4 L174.7,455.9 L175.0,455.3 L175.3,454.7 L175.6,454.2 L175.9,453.6 L176.2,453.1 L176.5,452.5 L176.9,452.0 L177.2,451.4 L177.5,450.8 L177.8,450.3 L178.1,449.7 L178.4,449.2 L178.7,448.6 L179.1,448.1 L179.4,447.5 L179.7,447.0 L180.0,446.4 L180.3,445.9 L180.7,445.3 L181.0,444.8 L181.3,444.2 L181.6,443.7 L181.9,443.1 L182.3,442.6 L182.6,442.0 L182.9,441.5 L183.2,440.9 L183.5,440.4 L183.8,439.8 L184.2,439.3 L184.5,438.8 L184.8,438.2 L185.1,437.7 L185.5,437.1 L185.8,436.6 L186.1,436.0 L186.4,435.5 L186.7,434.9 L187.1,434.4 L187.4,433.8 L187.7,433.3 L188.1,432.8 L188.4,432.2 L188.7,431.7 L189.1,431.1 L189.4,430.6 L189.8,430.1 L190.1,429.5 L190.4,429.0 L190.8,428.5 L191.1,427.9 L191.5,427.4 L191.8,426.9 L192.2,426.3 L192.6,425.8 L192.9,425.3 L193.3,424.8 L193.7,424.3 L194.0,423.7 L194.4,423.2 L194.8,422.7 L195.2,422.2 L195.6,421.7 L196.0,421.2 L196.3,420.7 L196.7,420.2 L197.1,419.7 L197.6,419.2 L198.0,418.7 L198.4,418.3 L198.8,417.8 L199.2,417.3 L199.6,416.8 L200.1,416.4 L200.5,415.9 L200.9,415.4 L201.4,415.0 L201.8,414.5 L202.3,414.1 L202.7,413.6 L203.2,413.2 L203.7,412.7 L204.1,412.3 L204.6,411.9 L205.0,411.4 L205.5,411.0 L205.9,410.5 L206.4,410.1 L206.8,409.6 L207.3,409.2 L207.7,408.7 L208.1,408.2 L208.6,407.8 L209.0,407.3 L209.4,406.8 L209.8,406.4 L210.2,405.9 L210.6,405.4 L211.0,404.9 L211.4,404.4 L211.8,403.9 L212.2,403.3 L212.5,402.8 L212.9,402.3 L213.3,401.8 L213.7,401.3 L214.0,400.8 L214.4,400.3 L214.8,399.8 L215.2,399.3 L215.6,398.8 L216.0,398.3 L216.4,397.8 L216.8,397.3 L217.2,396.8 L217.7,396.4 L218.1,395.9 L218.5,395.4 L219.0,395.0 L219.4,394.5 L219.9,394.1 L220.3,393.6 L220.8,393.2 L221.3,392.8 L221.7,392.3 L222.2,391.9 L222.7,391.5 L223.2,391.1 L223.6,390.7 L224.1,390.2 L224.6,389.8 L225.1,389.4 L225.6,389.0 L226.1,388.6 L226.6,388.2 L227.1,387.8 L227.6,387.4 L228.1,387.0 L228.6,386.6 L229.1,386.2 L229.6,385.8 L230.1,385.5 L230.6,385.1 L231.1,384.7 L231.6,384.3 L232.1,383.9 L232.6,383.6 L233.1,383.2 L233.7,382.8 L234.2,382.5 L234.7,382.1 L235.2,381.7 L235.8,381.4 L236.3,381.0 L236.8,380.7 L237.3,380.3 L237.9,380.0 L238.4,379.6 L238.9,379.3 L239.5,378.9 L240.0,378.6 L240.5,378.3 L241.1,377.9 L241.6,377.6 L242.2,377.3 L242.7,376.9 L243.2,376.6 L243.8,376.3 L244.3,376.0 L244.9,375.6 L245.4,375.3 L246.0,375.0 L246.5,374.7 L247.1,374.3 L247.6,374.0 L248.2,373.7 L248.7,373.4 L249.3,373.1 L249.9,372.8 L250.4,372.5 L251.0,372.2 L251.5,371.9 L252.1,371.6 L252.7,371.3 L253.3,371.1 L253.8,370.8 L254.4,370.5 L255.0,370.3 L255.6,370.0 L256.1,369.8 L256.7,369.5 L257.3,369.3 L257.9,369.0 L258.5,368.8 L259.1,368.6 L259.7,368.4 L260.3,368.2 L260.9,368.0 L261.5,367.7 L262.1,367.5 L262.7,367.3 L263.3,367.2 L263.9,367.0 L264.5,366.8 L265.1,366.6 L265.7,366.4 L266.3,366.2 L267.0,366.0 L267.6,365.8 L268.2,365.7 L268.8,365.5 L269.4,365.3 L270.0,365.1 L270.6,364.9 L271.2,364.8 L271.8,364.6 L272.5,364.4 L273.1,364.3 L273.7,364.1 L274.3,363.9 L274.9,363.8 L275.5,363.6 L276.2,363.5 L276.8,363.4 L277.4,363.2 L278.0,363.1 L278.6,363.0 L279.3,362.9 L279.9,362.8 L280.5,362.6 L281.1,362.6 L281.8,362.5 L282.4,362.4 L283.0,362.3 L283.7,362.2 L284.3,362.2 L284.9,362.1 L285.6,362.1 L286.2,362.0 L286.8,362.0 L287.5,361.9 L288.1,361.9 L288.7,361.9 L289.4,361.8 L290.0,361.8 L290.6,361.8 L291.3,361.8 L291.9,361.7 L292.5,361.7 L293.2,361.7 L293.8,361.7 L294.5,361.7 L295.1,361.7 L295.7,361.7 L296.4,361.7 L297.0,361.7 L297.6,361.7 L298.3,361.7 L298.9,361.7 L299.5,361.7 L300.2,361.7 L300.8,361.8 L301.4,361.8 L302.1,361.8 L302.7,361.8 L303.3,361.8 L304.0,361.8 L304.6,361.8 L305.3,361.9 L305.9,361.9 L306.5,361.9 L307.2,361.9 L307.8,362.0 L308.4,362.0 L309.1,362.0 L309.7,362.1 L310.3,362.1 L311.0,362.2 L311.6,362.2 L312.2,362.3 L312.9,362.4 L313.5,362.5 L314.1,362.6 L314.7,362.7 L315.4,362.8 L316.0,362.9 L316.6,363.0 L317.2,363.1 L317.9,363.3 L318.5,363.4 L319.1,363.6 L319.7,363.7 L320.3,363.9 L320.9,364.1 L321.5,364.2 L322.1,364.4 L322.8,364.6 L323.4,364.8 L324.0,365.0 L324.6,365.2 L325.2,365.4 L325.8,365.6 L326.4,365.8 L327.0,366.0 L327.6,366.2 L328.2,366.4 L328.8,366.6 L329.4,366.8 L330.0,367.0 L330.6,367.2 L331.2,367.4 L331.8,367.6 L332.4,367.8 L333.0,368.0 L333.6,368.2 L334.2,368.4 L334.8,368.6 L335.4,368.8 L336.0,369.0 L336.6,369.2 L337.2,369.4 L337.8,369.6 L338.4,369.8 L339.0,370.1 L339.6,370.3 L340.2,370.5 L340.8,370.7 L341.4,370.9 L342.0,371.1 L342.6,371.4 L343.2,371.6 L343.8,371.8 L344.4,372.0 L345.0,372.3 L345.6,372.5 L346.2,372.7 L346.8,373.0 L347.4,373.2 L347.9,373.4 L348.5,373.7 L349.1,373.9 L349.7,374.2 L350.3,374.4 L350.9,374.7 L351.5,374.9 L352.0,375.2 L352.6,375.4 L353.2,375.7 L353.8,375.9 L354.4,376.2 L354.9,376.5 L355.5,376.7 L356.1,377.0 L356.7,377.2 L357.3,377.5 L357.8,377.7 L358.4,378.0 L359.0,378.3 L359.6,378.5 L360.2,378.8 L360.8,379.0 L361.3,379.3 L361.9,379.5 L362.5,379.8 L363.1,380.0 L363.7,380.3 L364.2,380.5 L364.8,380.8 L365.4,381.1 L366.0,381.3 L366.6,381.6 L367.2,381.8 L367.7,382.1 L368.3,382.4 L368.9,382.6 L369.4,382.9 L370.0,383.2 L370.6,383.5 L371.2,383.8 L371.7,384.1 L372.3,384.3 L372.8,384.6 L373.4,384.9 L374.0,385.2 L374.5,385.5 L375.1,385.8 L375.6,386.1 L376.2,386.5 L376.8,386.8 L377.3,387.1 L377.9,387.4 L378.4,387.7 L379.0,388.0 L379.5,388.3 L380.1,388.7 L380.6,389.0 L381.2,389.3 L381.7,389.6 L382.2,390.0 L382.8,390.3 L383.3,390.7 L383.8,391.0 L384.4,391.4 L384.9,391.7 L385.4,392.1 L385.9,392.5 L386.4,392.8 L386.9,393.2 L387.5,393.6 L388.0,394.0 L388.5,394.4 L388.9,394.8 L389.4,395.2 L389.9,395.6 L390.4,396.0 L390.9,396.4 L391.4,396.8 L391.9,397.2 L392.4,397.6 L392.8,398.1 L393.3,398.5 L393.8,398.9 L394.3,399.3 L394.7,399.7 L395.2,400.2 L395.7,400.6 L396.2,401.0 L396.6,401.4 L397.1,401.9 L397.6,402.3 L398.1,402.7 L398.5,403.1 L399.0,403.5 L399.5,403.9 L400.0,404.4 L400.5,404.8 L401.0,405.2 L401.5,405.6 L401.9,406.0 L402.4,406.4 L402.9,406.8 L403.4,407.2 L403.9,407.6 L404.4,408.0 L404.9,408.3 L405.4,408.7 L405.9,409.1 L406.4,409.5 L406.9,409.9 L407.4,410.3 L407.9,410.7 L408.4,411.1 L408.9,411.5 L409.4,411.8 L409.9,412.2 L410.4,412.6 L410.9,413.0 L411.4,413.4 L411.9,413.8 L412.4,414.2 L412.9,414.6 L413.4,415.0 L413.9,415.4 L414.4,415.8 L414.9,416.2 L415.4,416.6 L415.9,417.0 L416.3,417.5 L416.8,417.9 L417.3,418.3 L417.8,418.7 L418.3,419.1 L418.8,419.5 L419.3,419.9 L419.7,420.3 L420.2,420.7 L420.7,421.2 L421.2,421.6 L421.7,422.0 L422.1,422.4 L422.6,422.8 L423.1,423.2 L423.6,423.7 L424.1,424.1 L424.5,424.5 L425.0,424.9 L425.5,425.3 L426.0,425.7 L426.4,426.2 L426.9,426.6 L427.4,427.0 L427.9,427.4 L428.4,427.8 L428.8,428.3 L429.3,428.7 L429.8,429.1 L430.3,429.5 L430.7,429.9 L431.2,430.4 L431.7,430.8 L432.2,431.2 L432.6,431.7 L433.1,432.1 L433.6,432.5 L434.0,432.9 L434.5,433.4 L434.9,433.8 L435.4,434.3 L435.9,434.7 L436.3,435.1 L436.8,435.6 L437.2,436.0 L437.7,436.5 L438.2,436.9 L438.6,437.3 L439.1,437.8 L439.5,438.2 L440.0,438.7 L440.4,439.1 L440.9,439.6 L441.3,440.0 L441.8,440.5 L442.2,440.9 L442.7,441.4 L443.1,441.8 L443.6,442.3 L444.0,442.7 L444.5,443.2 L444.9,443.6 L445.3,444.1 L445.8,444.5 L446.2,445.0 L446.7,445.4 L447.1,445.9 L447.5,446.4 L448.0,446.8 L448.4,447.3 L448.9,447.7 L449.3,448.2 L449.7,448.7 L450.1,449.1 L450.6,449.6 L451.0,450.1 L451.4,450.6 L451.9,451.0 L452.3,451.5 L452.7,452.0 L453.1,452.5 L453.5,452.9 L454.0,453.4 L454.4,453.9 L454.8,454.4 L455.2,454.8 L455.6,455.3 L456.0,455.8 L456.5,456.3 L456.9,456.8 L457.3,457.2 L457.7,457.7 L458.1,458.2 L458.5,458.7 L458.9,459.2 L459.4,459.7 L459.8,460.1 L460.2,460.6 L460.6,461.1 L461.0,461.6 L461.4,462.1 L461.8,462.6 L462.2,463.1 L462.6,463.6 L463.0,464.0 L463.4,464.5 L463.8,465.0 L464.2,465.5 L464.6,466.0 L465.0,466.5 L465.4,467.0 L465.8,467.5 L466.2,468.0 L466.6,468.5 L467.0,469.0 L467.3,469.5 L467.7,470.0 L468.1,470.5 L468.5,471.1 L468.9,471.6 L469.2,472.1 L469.6,472.6 L470.0,473.1 L470.4,473.6 L470.8,474.1 L471.1,474.6 L471.5,475.1 L471.9,475.7 L472.3,476.2 L472.6,476.7 L473.0,477.2" fill="none" stroke="#008000" stroke-width="3.20" stroke-linejoin="round" stroke-linecap="round" stroke-dasharray="0 6.56" stroke-dashoffset="4.91"/>
<path d="M125.2,515.8 L125.3,515.1 L125.4,514.4 L125.6,513.8 L125.7,513.1 L125.8,512.4 L125.9,511.7 L126.0,511.1 L126.2,510.4 L126.3,509.7 L126.4,509.0 L126.5,508.4 L126.7,507.7 L126.8,507.0 L126.9,506.3 L127.1,505.7 L127.2,505.0 L127.3,504.3 L127.4,503.6 L127.6,503.0 L127.7,502.3 L127.8,501.6 L128.0,500.9 L128.1,500.3 L128.3,499.6 L128.4,498.9 L128.5,498.2 L128.7,497.6 L128.8,496.9 L128.9,496.2 L129.1,495.6 L129.2,494.9 L129.4,494.2 L129.5,493.5 L129.6,492.9 L129.8,492.2 L129.9,491.5 L130.1,490.8 L130.2,490.2 L130.3,489.5 L130.5,488.8 L130.6,488.2 L130.8,487.5 L130.9,486.8 L131.1,486.1 L131.2,485.5 L131.4,484.8 L131.5,484.1 L131.7,483.5 L131.8,482.8 L132.0,482.1 L132.1,481.4 L132.3,480.8 L132.5,480.1 L132.6,479.4 L132.8,478.8 L132.9,478.1 L133.1,477.4 L133.3,476.8 L133.4,476.1 L133.6,475.4 L133.8,474.8 L134.0,474.1 L134.1,473.4 L134.3,472.8 L134.5,472.1 L134.6,471.4 L134.8,470.8 L135.0,470.1 L135.1,469.5 L135.3,468.8 L135.5,468.1 L135.6,467.5 L135.8,466.8 L136.0,466.1 L136.1,465.5 L136.3,464.8 L136.5,464.1 L136.6,463.5 L136.8,462.8 L137.0,462.1 L137.1,461.5 L137.3,460.8 L137.5,460.1 L137.6,459.5 L137.8,458.8 L138.0,458.1 L138.1,457.5 L138.3,456.8 L138.5,456.1 L138.7,455.5 L138.8,454.8 L139.0,454.1 L139.2,453.5 L139.4,452.8 L139.6,452.1 L139.8,451.5 L140.0,450.8 L140.2,450.2 L140.4,449.5 L140.6,448.9 L140.8,448.2 L141.1,447.6 L141.3,446.9 L141.5,446.3 L141.8,445.6 L142.0,445.0 L142.3,444.3 L142.5,443.7 L142.8,443.1 L143.1,442.4 L143.3,441.8 L143.6,441.2 L143.9,440.6 L144.2,439.9 L144.5,439.3 L144.8,438.7 L145.1,438.1 L145.4,437.4 L145.6,436.8 L145.9,436.2 L146.2,435.6 L146.5,435.0 L146.8,434.3 L147.1,433.7 L147.4,433.1 L147.6,432.4 L147.9,431.8 L148.2,431.2 L148.5,430.6 L148.8,429.9 L149.0,429.3 L149.3,428.7 L149.6,428.1 L149.9,427.4 L150.2,426.8 L150.5,426.2 L150.7,425.6 L151.0,424.9 L151.3,424.3 L151.6,423.7 L151.9,423.1 L152.2,422.5 L152.5,421.8 L152.8,421.2 L153.2,420.6 L153.5,420.0 L153.8,419.4 L154.1,418.8 L154.4,418.2 L154.8,417.6 L155.1,417.0 L155.4,416.4 L155.7,415.8 L156.1,415.2 L156.4,414.6 L156.8,414.0 L157.1,413.4 L157.5,412.8 L157.8,412.2 L158.2,411.6 L158.5,411.0 L158.9,410.4 L159.3,409.8 L159.6,409.3 L160.0,408.7 L160.4,408.1 L160.8,407.6 L161.2,407.0 L161.6,406.4 L162.0,405.9 L162.4,405.3 L162.8,404.8 L163.2,404.2 L163.6,403.7 L164.1,403.2 L164.5,402.6 L165.0,402.1 L165.4,401.6 L165.9,401.1 L166.3,400.6 L166.8,400.1 L167.3,399.6 L167.8,399.1 L168.3,398.6 L168.8,398.1 L169.3,397.6 L169.8,397.2 L170.3,396.7 L170.8,396.3 L171.3,395.8 L171.9,395.4 L172.4,395.0 L173.0,394.6 L173.5,394.2 L174.1,393.8 L174.6,393.4 L175.2,393.0 L175.8,392.6 L176.4,392.2 L176.9,391.8 L177.5,391.5 L178.1,391.1 L178.7,390.8 L179.3,390.4 L179.9,390.1 L180.5,389.8 L181.1,389.4 L181.7,389.1 L182.4,388.8 L183.0,388.5 L183.6,388.2 L184.2,387.9 L184.8,387.6 L185.5,387.3 L186.1,387.1 L186.7,386.8 L187.3,386.5 L188.0,386.2 L188.6,386.0 L189.2,385.7 L189.9,385.4 L190.5,385.2 L191.2,384.9 L191.8,384.7 L192.4,384.4 L193.1,384.2 L193.7,383.9 L194.4,383.7 L195.0,383.4 L195.6,383.2 L196.3,382.9 L196.9,382.7 L197.6,382.4 L198.2,382.2 L198.8,381.9 L199.5,381.7 L200.1,381.4 L200.8,381.2 L201.4,380.9 L202.0,380.7 L202.7,380.4 L203.3,380.2 L204.0,379.9 L204.6,379.7 L205.2,379.4 L205.9,379.1 L206.5,378.9 L207.1,378.6 L207.8,378.4 L208.4,378.1 L209.0,377.8 L209.7,377.6 L210.3,377.3 L210.9,377.0 L211.6,376.8 L212.2,376.5 L212.8,376.2 L213.5,376.0 L214.1,375.7 L214.7,375.4 L215.4,375.2 L216.0,374.9 L216.6,374.7 L217.3,374.4 L217.9,374.1 L218.6,373.9 L219.2,373.6 L219.8,373.3 L220.5,373.1 L221.1,372.8 L221.7,372.6 L222.4,372.3 L223.0,372.1 L223.7,371.8 L224.3,371.6 L224.9,371.3 L225.6,371.1 L226.2,370.8 L226.9,370.6 L227.5,370.3 L228.1,370.1 L228.8,369.9 L229.4,369.6 L230.1,369.4 L230.7,369.2 L231.4,368.9 L232.0,368.7 L232.7,368.5 L233.3,368.3 L234.0,368.0 L234.6,367.8 L235.3,367.6 L235.9,367.4 L236.6,367.2 L237.3,367.0 L237.9,366.8 L238.6,366.6 L239.2,366.4 L239.9,366.2 L240.6,366.0 L241.2,365.8 L241.9,365.6 L242.5,365.5 L243.2,365.3 L243.9,365.1 L244.5,365.0 L245.2,364.8 L245.9,364.6 L246.5,364.5 L247.2,364.3 L247.9,364.2 L248.6,364.0 L249.2,363.9 L249.9,363.7 L250.6,363.6 L251.2,363.5 L251.9,363.3 L252.6,363.2 L253.3,363.1 L254.0,363.0 L254.6,362.8 L255.3,362.7 L256.0,362.6 L256.7,362.5 L257.3,362.4 L258.0,362.3 L258.7,362.2 L259.4,362.1 L260.1,362.1 L260.8,362.0 L261.4,361.9 L262.1,361.8 L262.8,361.7 L263.5,361.7 L264.2,361.6 L264.9,361.6 L265.5,361.5 L266.2,361.4 L266.9,361.4 L267.6,361.3 L268.3,361.3 L269.0,361.2 L269.7,361.2 L270.3,361.1 L271.0,361.1 L271.7,361.1 L272.4,361.0 L273.1,361.0 L273.8,360.9 L274.5,360.9 L275.1,360.9 L275.8,360.8 L276.5,360.8 L277.2,360.8 L277.9,360.7 L278.6,360.7 L279.3,360.7 L280.0,360.7 L280.6,360.7 L281.3,360.6 L282.0,360.6 L282.7,360.6 L283.4,360.6 L284.1,360.6 L284.8,360.6 L285.5,360.6 L286.1,360.6 L286.8,360.6 L287.5,360.6 L288.2,360.6 L288.9,360.6 L289.6,360.6 L290.3,360.6 L290.9,360.6 L291.6,360.6 L292.3,360.7 L293.0,360.7 L293.7,360.7 L294.4,360.8 L295.1,360.8 L295.7,360.8 L296.4,360.9 L297.1,360.9 L297.8,360.9 L298.5,361.0 L299.2,361.0 L299.9,361.1 L300.6,361.1 L301.2,361.2 L301.9,361.2 L302.6,361.3 L303.3,361.3 L304.0,361.4 L304.7,361.4 L305.4,361.5 L306.0,361.5 L306.7,361.6 L307.4,361.7 L308.1,361.7 L308.8,361.8 L309.5,361.9 L310.1,362.0 L310.8,362.0 L311.5,362.1 L312.2,362.2 L312.9,362.3 L313.5,362.4 L314.2,362.6 L314.9,362.7 L315.6,362.8 L316.2,363.0 L316.9,363.1 L317.6,363.3 L318.3,363.4 L318.9,363.6 L319.6,363.8 L320.2,363.9 L320.9,364.1 L321.6,364.3 L322.2,364.5 L322.9,364.7 L323.5,364.9 L324.2,365.1 L324.9,365.3 L325.5,365.5 L326.2,365.7 L326.8,365.9 L327.5,366.1 L328.1,366.3 L328.8,366.6 L329.5,366.8 L330.1,367.0 L330.8,367.2 L331.4,367.4 L332.1,367.6 L332.7,367.9 L333.4,368.1 L334.0,368.3 L334.7,368.5 L335.3,368.7 L336.0,369.0 L336.6,369.2 L337.3,369.4 L337.9,369.7 L338.6,369.9 L339.2,370.1 L339.8,370.3 L340.5,370.6 L341.1,370.8 L341.8,371.1 L342.4,371.3 L343.1,371.5 L343.7,371.8 L344.4,372.0 L345.0,372.3 L345.6,372.5 L346.3,372.8 L346.9,373.0 L347.6,373.3 L348.2,373.5 L348.8,373.8 L349.5,374.1 L350.1,374.3 L350.7,374.6 L351.4,374.9 L352.0,375.2 L352.6,375.4 L353.2,375.7 L353.9,376.0 L354.5,376.3 L355.1,376.5 L355.8,376.8 L356.4,377.1 L357.0,377.4 L357.6,377.7 L358.3,377.9 L358.9,378.2 L359.5,378.5 L360.2,378.8 L360.8,379.0 L361.4,379.3 L362.0,379.6 L362.7,379.9 L363.3,380.1 L363.9,380.4 L364.6,380.7 L365.2,381.0 L365.8,381.2 L366.5,381.5 L367.1,381.8 L367.7,382.1 L368.3,382.4 L368.9,382.7 L369.6,383.0 L370.2,383.3 L370.8,383.6 L371.4,383.9 L372.0,384.2 L372.6,384.5 L373.2,384.8 L373.8,385.2 L374.5,385.5 L375.1,385.8 L375.7,386.2 L376.3,386.5 L376.9,386.8 L377.5,387.2 L378.1,387.5 L378.7,387.8 L379.3,388.2 L379.8,388.5 L380.4,388.9 L381.0,389.2 L381.6,389.6 L382.2,390.0 L382.8,390.3 L383.4,390.7 L383.9,391.1 L384.5,391.5 L385.1,391.8 L385.6,392.2 L386.2,392.6 L386.7,393.1 L387.3,393.5 L387.8,393.9 L388.4,394.3 L388.9,394.7 L389.4,395.2 L390.0,395.6 L390.5,396.1 L391.0,396.5 L391.5,396.9 L392.1,397.4 L392.6,397.8 L393.1,398.3 L393.6,398.7 L394.1,399.2 L394.7,399.7 L395.2,400.1 L395.7,400.6 L396.2,401.0 L396.7,401.5 L397.2,401.9 L397.7,402.4 L398.3,402.9 L398.8,403.3 L399.3,403.8 L399.8,404.2 L400.3,404.6 L400.9,405.1 L401.4,405.5 L401.9,406.0 L402.5,406.4 L403.0,406.8 L403.5,407.2 L404.1,407.7 L404.6,408.1 L405.2,408.5 L405.7,408.9 L406.2,409.4 L406.8,409.8 L407.3,410.2 L407.9,410.6 L408.4,411.0 L409.0,411.5 L409.5,411.9 L410.0,412.3 L410.6,412.7 L411.1,413.2 L411.6,413.6 L412.2,414.0 L412.7,414.5 L413.3,414.9 L413.8,415.3 L414.3,415.8 L414.8,416.2 L415.4,416.6 L415.9,417.1 L416.4,417.5 L417.0,418.0 L417.5,418.4 L418.0,418.9 L418.5,419.3 L419.1,419.7 L419.6,420.2 L420.1,420.6 L420.6,421.1 L421.1,421.5 L421.7,422.0 L422.2,422.4 L422.7,422.9 L423.2,423.3 L423.7,423.8 L424.2,424.2 L424.8,424.7 L425.3,425.1 L425.8,425.6 L426.3,426.0 L426.8,426.5 L427.4,427.0 L427.9,427.4 L428.4,427.9 L428.9,428.3 L429.4,428.8 L429.9,429.2 L430.4,429.7 L431.0,430.1 L431.5,430.6 L432.0,431.1 L432.5,431.5 L433.0,432.0 L433.5,432.5 L434.0,432.9 L434.5,433.4 L435.0,433.9 L435.5,434.3 L436.0,434.8 L436.5,435.3 L437.0,435.8 L437.5,436.2 L438.0,436.7 L438.5,437.2 L439.0,437.7 L439.4,438.2 L439.9,438.6 L440.4,439.1 L440.9,439.6 L441.4,440.1 L441.9,440.6 L442.4,441.1 L442.9,441.6 L443.3,442.0 L443.8,442.5 L444.3,443.0 L444.8,443.5 L445.3,444.0 L445.8,444.5 L446.2,445.0 L446.7,445.5 L447.2,446.0 L447.7,446.5 L448.1,447.0 L448.6,447.5 L449.1,448.0 L449.5,448.5 L450.0,449.0 L450.5,449.5 L450.9,450.0 L451.4,450.5 L451.8,451.0 L452.3,451.5 L452.8,452.0 L453.2,452.6 L453.7,453.1 L454.1,453.6 L454.6,454.1 L455.0,454.6 L455.5,455.1 L455.9,455.7 L456.4,456.2 L456.8,456.7 L457.3,457.2 L457.7,457.7 L458.2,458.3 L458.6,458.8 L459.1,459.3 L459.5,459.8 L460.0,460.4 L460.4,460.9 L460.8,461.4 L461.3,461.9 L461.7,462.5 L462.2,463.0 L462.6,463.5 L463.0,464.1 L463.5,464.6 L463.9,465.1 L464.3,465.7 L464.8,466.2 L465.2,466.7 L465.6,467.3 L466.0,467.8 L466.5,468.4 L466.9,468.9 L467.3,469.5 L467.7,470.0 L468.1,470.6 L468.5,471.1 L468.9,471.7 L469.3,472.2 L469.8,472.8 L470.2,473.3 L470.6,473.9 L471.0,474.4 L471.4,475.0 L471.8,475.5 L472.2,476.1 L472.6,476.6 L473.0,477.2" fill="none" stroke="#008000" stroke-width="2.50" stroke-linejoin="round" stroke-linecap="round" stroke-dasharray="10.40 14.60" stroke-dashoffset="22.84"/>
<path d="M147.8,515.8 L147.9,515.2 L148.1,514.6 L148.2,514.0 L148.4,513.5 L148.5,512.9 L148.7,512.3 L148.9,511.7 L149.0,511.2 L149.2,510.6 L149.4,510.0 L149.6,509.4 L149.8,508.9 L150.1,508.3 L150.3,507.8 L150.5,507.2 L150.8,506.7 L151.0,506.1 L151.3,505.6 L151.6,505.0 L151.9,504.5 L152.1,504.0 L152.4,503.5 L152.7,502.9 L153.0,502.4 L153.4,501.9 L153.7,501.4 L154.0,500.9 L154.4,500.4 L154.8,500.0 L155.1,499.5 L155.5,499.0 L155.9,498.6 L156.4,498.2 L156.8,497.7 L157.3,497.3 L157.7,496.9 L158.2,496.6 L158.7,496.2 L159.2,495.9 L159.7,495.6 L160.2,495.3 L160.7,495.0 L161.3,494.7 L161.8,494.4 L162.4,494.2 L163.0,494.0 L163.5,493.8 L164.1,493.6 L164.7,493.4 L165.3,493.3 L165.8,493.1 L166.4,493.0 L167.0,492.9 L167.6,492.8 L168.2,492.7 L168.8,492.7 L169.4,492.6 L170.0,492.6 L170.6,492.5 L171.2,492.5 L171.8,492.5 L172.4,492.5 L173.0,492.5 L173.6,492.5 L174.2,492.5 L174.8,492.5 L175.4,492.6 L176.0,492.6 L176.6,492.6 L177.3,492.7 L177.8,492.8 L178.4,492.8 L179.0,492.9 L179.6,493.0 L180.2,493.1 L180.8,493.2 L181.4,493.3 L182.0,493.4 L182.6,493.5 L183.2,493.6 L183.8,493.7 L184.4,493.9 L184.9,494.0 L185.5,494.2 L186.1,494.3 L186.7,494.5 L187.3,494.6 L187.9,494.8 L188.4,494.9 L189.0,495.1 L189.6,495.2 L190.2,495.4 L190.8,495.5 L191.4,495.7 L191.9,495.8 L192.5,495.9 L193.1,496.0 L193.7,496.1 L194.3,496.2 L194.9,496.3 L195.5,496.4 L196.1,496.5 L196.7,496.5 L197.3,496.6 L197.9,496.6 L198.5,496.7 L199.1,496.7 L199.7,496.7 L200.3,496.7 L200.9,496.7 L201.5,496.7 L202.1,496.6 L202.7,496.6 L203.3,496.5 L203.9,496.4 L204.5,496.3 L205.1,496.2 L205.7,496.0 L206.2,495.8 L206.8,495.6 L207.4,495.4 L207.9,495.2 L208.5,494.9 L209.0,494.7 L209.6,494.4 L210.1,494.1 L210.6,493.9 L211.2,493.6 L211.7,493.3 L212.2,492.9 L212.7,492.6 L213.2,492.3 L213.7,491.9 L214.2,491.6 L214.6,491.2 L215.1,490.8 L215.6,490.5 L216.0,490.1 L216.5,489.7 L216.9,489.3 L217.4,488.9 L217.8,488.4 L218.2,488.0 L218.7,487.6 L219.1,487.2 L219.5,486.8 L220.0,486.3 L220.4,485.9 L220.8,485.5 L221.2,485.0 L221.6,484.6 L222.0,484.1 L222.4,483.7 L222.8,483.2 L223.2,482.8 L223.6,482.3 L224.0,481.9 L224.4,481.4 L224.8,481.0 L225.1,480.5 L225.5,480.0 L225.9,479.5 L226.3,479.1 L226.6,478.6 L227.0,478.1 L227.3,477.6 L227.7,477.1 L228.0,476.7 L228.4,476.2 L228.7,475.7 L229.1,475.2 L229.4,474.7 L229.8,474.2 L230.1,473.7 L230.4,473.2 L230.8,472.7 L231.1,472.2 L231.4,471.7 L231.8,471.2 L232.1,470.7 L232.4,470.2 L232.8,469.7 L233.1,469.2 L233.4,468.7 L233.7,468.2 L234.1,467.7 L234.4,467.1 L234.7,466.6 L235.0,466.1 L235.3,465.6 L235.7,465.1 L236.0,464.6 L236.3,464.1 L236.6,463.6 L236.9,463.1 L237.3,462.6 L237.6,462.1 L237.9,461.5 L238.2,461.0 L238.5,460.5 L238.8,460.0 L239.1,459.5 L239.5,459.0 L239.8,458.5 L240.1,458.0 L240.4,457.4 L240.7,456.9 L241.0,456.4 L241.3,455.9 L241.6,455.4 L241.9,454.9 L242.3,454.4 L242.6,453.8 L242.9,453.3 L243.2,452.8 L243.5,452.3 L243.8,451.8 L244.1,451.3 L244.4,450.8 L244.8,450.2 L245.1,449.7 L245.4,449.2 L245.7,448.7 L246.0,448.2 L246.3,447.7 L246.7,447.2 L247.0,446.7 L247.3,446.2 L247.6,445.7 L248.0,445.2 L248.3,444.7 L248.6,444.1 L249.0,443.6 L249.3,443.1 L249.6,442.6 L250.0,442.1 L250.3,441.7 L250.6,441.2 L251.0,440.7 L251.3,440.2 L251.7,439.7 L252.0,439.2 L252.4,438.7 L252.7,438.2 L253.1,437.7 L253.4,437.3 L253.8,436.8 L254.2,436.3 L254.5,435.8 L254.9,435.3 L255.3,434.9 L255.6,434.4 L256.0,433.9 L256.4,433.5 L256.8,433.0 L257.1,432.5 L257.5,432.0 L257.9,431.6 L258.3,431.1 L258.6,430.6 L259.0,430.2 L259.4,429.7 L259.8,429.2 L260.1,428.8 L260.5,428.3 L260.9,427.8 L261.3,427.4 L261.7,426.9 L262.1,426.4 L262.4,426.0 L262.8,425.5 L263.2,425.1 L263.6,424.6 L264.0,424.1 L264.4,423.7 L264.8,423.2 L265.2,422.8 L265.6,422.3 L266.0,421.9 L266.4,421.5 L266.8,421.0 L267.2,420.6 L267.6,420.1 L268.0,419.7 L268.4,419.3 L268.9,418.8 L269.3,418.4 L269.7,417.9 L270.1,417.5 L270.5,417.1 L270.9,416.6 L271.3,416.2 L271.7,415.8 L272.2,415.3 L272.6,414.9 L273.0,414.4 L273.4,414.0 L273.8,413.5 L274.2,413.1 L274.6,412.7 L275.0,412.2 L275.4,411.8 L275.9,411.4 L276.3,410.9 L276.7,410.5 L277.1,410.1 L277.5,409.6 L278.0,409.2 L278.4,408.8 L278.8,408.4 L279.3,408.0 L279.7,407.6 L280.2,407.2 L280.6,406.8 L281.1,406.4 L281.5,406.0 L282.0,405.6 L282.4,405.2 L282.9,404.8 L283.3,404.4 L283.8,404.0 L284.3,403.6 L284.7,403.2 L285.2,402.9 L285.6,402.5 L286.1,402.1 L286.5,401.7 L287.0,401.3 L287.5,400.9 L287.9,400.5 L288.4,400.1 L288.8,399.7 L289.3,399.4 L289.8,399.0 L290.3,398.6 L290.7,398.3 L291.2,397.9 L291.7,397.6 L292.2,397.2 L292.7,396.9 L293.2,396.6 L293.8,396.3 L294.3,396.0 L294.8,395.7 L295.3,395.4 L295.8,395.1 L296.4,394.8 L296.9,394.5 L297.4,394.2 L298.0,393.9 L298.5,393.7 L299.0,393.4 L299.5,393.1 L300.1,392.8 L300.6,392.5 L301.1,392.2 L301.6,391.9 L302.2,391.6 L302.7,391.4 L303.2,391.1 L303.8,390.8 L304.3,390.5 L304.9,390.3 L305.4,390.0 L305.9,389.8 L306.5,389.5 L307.0,389.3 L307.6,389.0 L308.2,388.8 L308.7,388.6 L309.3,388.4 L309.8,388.2 L310.4,388.0 L311.0,387.8 L311.5,387.6 L312.1,387.4 L312.7,387.2 L313.3,387.0 L313.8,386.9 L314.4,386.7 L315.0,386.5 L315.6,386.4 L316.2,386.2 L316.7,386.1 L317.3,386.0 L317.9,385.8 L318.5,385.7 L319.1,385.6 L319.7,385.4 L320.3,385.3 L320.9,385.2 L321.5,385.1 L322.1,385.0 L322.6,384.9 L323.2,384.8 L323.8,384.7 L324.4,384.7 L325.0,384.6 L325.6,384.5 L326.2,384.4 L326.8,384.4 L327.4,384.3 L328.0,384.3 L328.6,384.2 L329.2,384.2 L329.8,384.2 L330.4,384.1 L331.0,384.1 L331.6,384.1 L332.2,384.1 L332.8,384.1 L333.4,384.1 L334.0,384.1 L334.6,384.1 L335.2,384.2 L335.8,384.2 L336.4,384.3 L337.0,384.3 L337.6,384.4 L338.2,384.4 L338.8,384.5 L339.4,384.6 L340.0,384.6 L340.6,384.7 L341.2,384.8 L341.8,384.9 L342.4,385.0 L343.0,385.1 L343.6,385.2 L344.2,385.3 L344.8,385.5 L345.4,385.6 L345.9,385.7 L346.5,385.8 L347.1,385.9 L347.7,386.1 L348.3,386.2 L348.9,386.3 L349.5,386.5 L350.0,386.6 L350.6,386.8 L351.2,386.9 L351.8,387.1 L352.4,387.2 L353.0,387.4 L353.5,387.5 L354.1,387.7 L354.7,387.9 L355.3,388.0 L355.8,388.2 L356.4,388.4 L357.0,388.5 L357.6,388.7 L358.1,388.9 L358.7,389.1 L359.3,389.3 L359.9,389.4 L360.4,389.6 L361.0,389.8 L361.6,390.0 L362.2,390.2 L362.7,390.4 L363.3,390.6 L363.9,390.8 L364.4,390.9 L365.0,391.1 L365.6,391.3 L366.1,391.5 L366.7,391.7 L367.3,392.0 L367.8,392.2 L368.4,392.4 L369.0,392.6 L369.5,392.8 L370.1,393.0 L370.6,393.2 L371.2,393.5 L371.7,393.7 L372.3,393.9 L372.9,394.2 L373.4,394.4 L374.0,394.6 L374.5,394.9 L375.1,395.1 L375.6,395.4 L376.2,395.6 L376.7,395.9 L377.2,396.1 L377.8,396.4 L378.3,396.6 L378.9,396.9 L379.4,397.2 L380.0,397.4 L380.5,397.7 L381.0,398.0 L381.6,398.3 L382.1,398.5 L382.6,398.8 L383.2,399.1 L383.7,399.4 L384.2,399.7 L384.7,400.0 L385.3,400.2 L385.8,400.5 L386.3,400.8 L386.8,401.1 L387.4,401.4 L387.9,401.7 L388.4,402.0 L388.9,402.3 L389.4,402.6 L390.0,402.9 L390.5,403.3 L391.0,403.6 L391.5,403.9 L392.0,404.2 L392.5,404.5 L393.0,404.8 L393.5,405.1 L394.1,405.5 L394.6,405.8 L395.1,406.1 L395.6,406.4 L396.1,406.7 L396.6,407.1 L397.1,407.4 L397.6,407.7 L398.1,408.1 L398.6,408.4 L399.1,408.7 L399.6,409.1 L400.1,409.4 L400.6,409.7 L401.1,410.1 L401.6,410.4 L402.1,410.7 L402.6,411.1 L403.1,411.4 L403.6,411.8 L404.1,412.1 L404.6,412.5 L405.1,412.8 L405.5,413.1 L406.0,413.5 L406.5,413.8 L407.0,414.2 L407.5,414.5 L408.0,414.9 L408.5,415.2 L409.0,415.6 L409.5,415.9 L410.0,416.3 L410.4,416.6 L410.9,417.0 L411.4,417.3 L411.9,417.7 L412.4,418.0 L412.9,418.4 L413.4,418.8 L413.8,419.1 L414.3,419.5 L414.8,419.8 L415.3,420.2 L415.8,420.6 L416.2,420.9 L416.7,421.3 L417.2,421.6 L417.7,422.0 L418.1,422.4 L418.6,422.8 L419.1,423.1 L419.6,423.5 L420.0,423.9 L420.5,424.3 L421.0,424.6 L421.4,425.0 L421.9,425.4 L422.4,425.8 L422.8,426.1 L423.3,426.5 L423.8,426.9 L424.2,427.3 L424.7,427.7 L425.2,428.0 L425.6,428.4 L426.1,428.8 L426.6,429.2 L427.0,429.6 L427.5,429.9 L428.0,430.3 L428.4,430.7 L428.9,431.1 L429.3,431.5 L429.8,431.9 L430.3,432.3 L430.7,432.6 L431.2,433.0 L431.6,433.4 L432.1,433.8 L432.5,434.2 L433.0,434.6 L433.5,435.0 L433.9,435.4 L434.4,435.8 L434.8,436.2 L435.3,436.6 L435.7,437.0 L436.1,437.4 L436.6,437.8 L437.0,438.2 L437.5,438.6 L437.9,439.0 L438.4,439.4 L438.8,439.8 L439.2,440.2 L439.7,440.7 L440.1,441.1 L440.6,441.5 L441.0,441.9 L441.4,442.3 L441.9,442.7 L442.3,443.1 L442.7,443.6 L443.2,444.0 L443.6,444.4 L444.0,444.8 L444.5,445.2 L444.9,445.6 L445.3,446.1 L445.8,446.5 L446.2,446.9 L446.6,447.3 L447.0,447.7 L447.5,448.2 L447.9,448.6 L448.3,449.0 L448.7,449.4 L449.2,449.9 L449.6,450.3 L450.0,450.7 L450.4,451.2 L450.8,451.6 L451.3,452.0 L451.7,452.5 L452.1,452.9 L452.5,453.3 L452.9,453.8 L453.3,454.2 L453.7,454.7 L454.1,455.1 L454.6,455.5 L455.0,456.0 L455.4,456.4 L455.8,456.9 L456.2,457.3 L456.6,457.7 L457.0,458.2 L457.4,458.6 L457.8,459.1 L458.2,459.5 L458.6,460.0 L459.0,460.4 L459.4,460.9 L459.8,461.3 L460.2,461.8 L460.6,462.2 L461.0,462.7 L461.4,463.1 L461.8,463.6 L462.2,464.0 L462.6,464.5 L463.0,465.0 L463.3,465.4 L463.7,465.9 L464.1,466.3 L464.5,466.8 L464.9,467.3 L465.3,467.7 L465.6,468.2 L466.0,468.7 L466.4,469.1 L466.8,469.6 L467.1,470.1 L467.5,470.5 L467.9,471.0 L468.3,471.5 L468.6,472.0 L469.0,472.4 L469.4,472.9 L469.7,473.4 L470.1,473.9 L470.5,474.3 L470.8,474.8 L471.2,475.3 L471.5,475.8 L471.9,476.3 L472.3,476.7 L472.6,477.2 L473.0,477.7" fill="none" stroke="#008000" stroke-width="2.50" stroke-linejoin="round" stroke-linecap="round"/>
<path d="M99.8,516.6 L100.4,516.5 L101.0,516.5 L101.6,516.4 L102.2,516.3 L102.8,516.3 L103.4,516.2 L104.0,516.1 L104.6,516.1 L105.2,516.0 L105.8,515.9 L106.4,515.9 L107.0,515.8 L107.6,515.8 L108.2,515.7 L108.8,515.7 L109.4,515.6 L110.0,515.5 L110.6,515.5 L111.2,515.4 L111.8,515.4 L112.4,515.4 L113.0,515.3 L113.6,515.3 L114.2,515.2 L114.8,515.2 L115.5,515.2 L116.1,515.1 L116.7,515.1 L117.3,515.1 L117.9,515.0 L118.5,515.0 L119.2,515.0 L119.8,515.0 L120.4,515.0 L121.1,515.0 L121.7,515.0 L122.3,515.0 L123.0,515.0 L123.6,515.0 L124.2,515.0 L124.9,515.0 L125.5,515.0 L126.2,515.1 L126.8,515.1 L127.5,515.1 L128.1,515.1 L128.8,515.2 L129.5,515.2 L130.1,515.3 L130.8,515.3 L131.4,515.4 L132.1,515.5 L132.8,515.5 L133.5,515.6 L134.2,515.7 L134.8,515.8 L135.5,515.9 L136.2,516.0 L136.9,516.1 L137.6,516.2 L138.3,516.3 L139.0,516.4 L139.7,516.5 L140.4,516.7 L141.2,516.8 L141.9,517.0 L142.6,517.1 L143.3,517.3 L144.1,517.4 L144.8,517.6 L145.5,517.8 L146.2,517.9 L147.0,518.1 L147.7,518.3 L148.5,518.5 L149.2,518.6 L149.9,518.8 L150.7,519.0 L151.4,519.2 L152.1,519.4 L152.9,519.5 L153.6,519.7 L154.4,519.9 L155.1,520.1 L155.8,520.2 L156.6,520.4 L157.3,520.6 L158.0,520.7 L158.7,520.9 L159.5,521.0 L160.2,521.2 L160.9,521.3 L161.6,521.4 L162.3,521.6 L163.0,521.7 L163.7,521.8 L164.4,521.9 L165.1,522.0 L165.8,522.1 L166.5,522.2 L167.1,522.2 L167.8,522.3 L168.5,522.3 L169.1,522.4 L169.8,522.4 L170.4,522.4 L171.0,522.4 L171.7,522.4 L172.3,522.4 L172.9,522.3 L173.5,522.3 L174.1,522.2 L174.7,522.1 L175.3,522.0 L175.8,521.9 L176.4,521.8 L176.9,521.6 L177.5,521.5 L178.0,521.3 L178.5,521.1 L179.0,520.8 L179.5,520.6 L180.0,520.4 L180.5,520.1 L180.9,519.8 L181.4,519.5 L181.8,519.1 L182.3,518.8 L182.7,518.4 L183.1,518.0 L183.4,517.6 L183.8,517.1 L184.2,516.6 L184.5,516.1 L184.9,515.6 L185.2,515.1 L185.5,514.5 L185.8,514.0 L186.1,513.4 L186.4,512.8 L186.7,512.2 L186.9,511.6 L187.2,511.1 L187.5,510.5 L187.8,509.9 L188.0,509.3 L188.3,508.8 L188.6,508.2 L188.9,507.6 L189.2,507.1 L189.5,506.5 L189.8,506.0 L190.1,505.4 L190.4,504.8 L190.7,504.3 L191.0,503.7 L191.3,503.2 L191.6,502.6 L191.9,502.1 L192.3,501.6 L192.6,501.0 L192.9,500.5 L193.3,499.9 L193.6,499.4 L193.9,498.8 L194.2,498.3 L194.5,497.7 L194.9,497.2 L195.2,496.6 L195.5,496.1 L195.8,495.6 L196.2,495.0 L196.5,494.5 L196.8,493.9 L197.2,493.4 L197.5,492.9 L197.9,492.3 L198.2,491.8 L198.6,491.3 L198.9,490.8 L199.3,490.2 L199.7,489.7 L200.0,489.2 L200.4,488.7 L200.7,488.2 L201.1,487.6 L201.5,487.1 L201.9,486.6 L202.2,486.1 L202.6,485.6 L203.0,485.1 L203.4,484.6 L203.7,484.1 L204.1,483.5 L204.5,483.0 L204.9,482.5 L205.3,482.0 L205.7,481.5 L206.1,481.0 L206.4,480.5 L206.8,480.0 L207.2,479.5 L207.6,479.1 L208.0,478.6 L208.4,478.1 L208.8,477.6 L209.2,477.1 L209.7,476.6 L210.1,476.1 L210.5,475.6 L210.9,475.1 L211.3,474.7 L211.7,474.2 L212.1,473.7 L212.5,473.2 L212.9,472.7 L213.3,472.2 L213.7,471.7 L214.1,471.3 L214.5,470.8 L215.0,470.3 L215.4,469.8 L215.8,469.3 L216.2,468.8 L216.6,468.4 L217.0,467.9 L217.5,467.4 L217.9,466.9 L218.3,466.5 L218.7,466.0 L219.1,465.5 L219.6,465.1 L220.0,464.6 L220.4,464.1 L220.9,463.7 L221.3,463.2 L221.8,462.8 L222.2,462.3 L222.7,461.9 L223.1,461.4 L223.6,461.0 L224.0,460.5 L224.5,460.1 L224.9,459.6 L225.4,459.2 L225.8,458.8 L226.3,458.3 L226.7,457.9 L227.2,457.4 L227.7,457.0 L228.1,456.6 L228.6,456.1 L229.1,455.7 L229.5,455.3 L230.0,454.8 L230.4,454.4 L230.9,453.9 L231.4,453.5 L231.8,453.1 L232.3,452.6 L232.7,452.2 L233.2,451.8 L233.7,451.3 L234.1,450.9 L234.6,450.5 L235.1,450.1 L235.6,449.6 L236.0,449.2 L236.5,448.8 L237.0,448.4 L237.5,448.0 L238.0,447.6 L238.5,447.2 L239.0,446.8 L239.5,446.4 L240.0,446.0 L240.5,445.6 L241.0,445.3 L241.5,444.9 L242.0,444.6 L242.6,444.2 L243.1,443.9 L243.6,443.5 L244.2,443.2 L244.7,442.8 L245.2,442.5 L245.8,442.2 L246.3,441.8 L246.9,441.5 L247.4,441.2 L247.9,440.8 L248.5,440.5 L249.0,440.2 L249.6,439.9 L250.1,439.5 L250.7,439.2 L251.2,438.9 L251.8,438.5 L252.3,438.2 L252.8,437.9 L253.4,437.5 L253.9,437.2 L254.5,436.9 L255.0,436.6 L255.6,436.2 L256.1,435.9 L256.7,435.6 L257.2,435.3 L257.8,435.0 L258.3,434.7 L258.9,434.4 L259.4,434.1 L260.0,433.8 L260.6,433.5 L261.1,433.2 L261.7,433.0 L262.3,432.7 L262.9,432.4 L263.4,432.2 L264.0,431.9 L264.6,431.7 L265.2,431.4 L265.8,431.2 L266.4,430.9 L266.9,430.7 L267.5,430.5 L268.1,430.2 L268.7,430.0 L269.3,429.8 L269.9,429.5 L270.5,429.3 L271.1,429.1 L271.7,428.9 L272.3,428.7 L272.9,428.4 L273.5,428.2 L274.1,428.0 L274.7,427.8 L275.3,427.6 L275.9,427.4 L276.5,427.3 L277.1,427.1 L277.7,426.9 L278.3,426.7 L278.9,426.6 L279.6,426.4 L280.2,426.3 L280.8,426.1 L281.4,426.0 L282.0,425.9 L282.7,425.7 L283.3,425.6 L283.9,425.5 L284.5,425.4 L285.2,425.3 L285.8,425.2 L286.4,425.1 L287.0,425.0 L287.7,424.9 L288.3,424.8 L288.9,424.7 L289.6,424.7 L290.2,424.6 L290.8,424.5 L291.4,424.4 L292.1,424.3 L292.7,424.3 L293.3,424.2 L294.0,424.1 L294.6,424.0 L295.2,424.0 L295.9,423.9 L296.5,423.8 L297.1,423.8 L297.7,423.7 L298.4,423.6 L299.0,423.6 L299.6,423.5 L300.3,423.5 L300.9,423.4 L301.5,423.4 L302.2,423.3 L302.8,423.3 L303.4,423.3 L304.1,423.2 L304.7,423.2 L305.3,423.2 L306.0,423.1 L306.6,423.1 L307.2,423.1 L307.9,423.1 L308.5,423.1 L309.1,423.1 L309.8,423.1 L310.4,423.1 L311.0,423.1 L311.7,423.1 L312.3,423.2 L313.0,423.2 L313.6,423.2 L314.2,423.3 L314.9,423.3 L315.5,423.4 L316.1,423.4 L316.7,423.5 L317.4,423.6 L318.0,423.6 L318.6,423.7 L319.3,423.8 L319.9,423.8 L320.5,423.9 L321.2,424.0 L321.8,424.1 L322.4,424.2 L323.0,424.3 L323.7,424.4 L324.3,424.5 L324.9,424.6 L325.6,424.7 L326.2,424.8 L326.8,424.9 L327.4,425.0 L328.1,425.1 L328.7,425.2 L329.3,425.3 L329.9,425.4 L330.6,425.5 L331.2,425.6 L331.8,425.7 L332.4,425.8 L333.1,425.9 L333.7,426.0 L334.3,426.1 L334.9,426.3 L335.6,426.4 L336.2,426.5 L336.8,426.6 L337.4,426.8 L338.0,426.9 L338.7,427.0 L339.3,427.2 L339.9,427.3 L340.5,427.5 L341.1,427.7 L341.7,427.8 L342.3,428.0 L342.9,428.2 L343.6,428.4 L344.2,428.5 L344.8,428.7 L345.4,428.9 L346.0,429.1 L346.6,429.3 L347.2,429.5 L347.8,429.6 L348.4,429.8 L349.0,430.0 L349.6,430.2 L350.2,430.4 L350.9,430.5 L351.5,430.7 L352.1,430.9 L352.7,431.1 L353.3,431.3 L353.9,431.4 L354.5,431.6 L355.1,431.8 L355.7,432.0 L356.3,432.2 L356.9,432.3 L357.5,432.5 L358.1,432.7 L358.8,432.9 L359.4,433.1 L360.0,433.3 L360.6,433.5 L361.2,433.7 L361.8,433.9 L362.4,434.1 L363.0,434.3 L363.6,434.5 L364.2,434.8 L364.7,435.0 L365.3,435.2 L365.9,435.4 L366.5,435.7 L367.1,435.9 L367.7,436.1 L368.3,436.4 L368.9,436.6 L369.5,436.8 L370.1,437.1 L370.6,437.3 L371.2,437.6 L371.8,437.8 L372.4,438.1 L373.0,438.3 L373.6,438.6 L374.1,438.8 L374.7,439.1 L375.3,439.3 L375.9,439.6 L376.5,439.9 L377.0,440.1 L377.6,440.4 L378.2,440.6 L378.8,440.9 L379.3,441.2 L379.9,441.5 L380.5,441.7 L381.0,442.0 L381.6,442.3 L382.2,442.6 L382.7,442.9 L383.3,443.2 L383.9,443.5 L384.4,443.8 L385.0,444.1 L385.5,444.4 L386.1,444.7 L386.7,445.0 L387.2,445.3 L387.8,445.6 L388.3,445.9 L388.9,446.2 L389.4,446.5 L390.0,446.8 L390.5,447.2 L391.1,447.5 L391.6,447.8 L392.2,448.1 L392.7,448.4 L393.3,448.7 L393.8,449.1 L394.4,449.4 L394.9,449.7 L395.5,450.0 L396.0,450.3 L396.6,450.7 L397.1,451.0 L397.7,451.3 L398.2,451.6 L398.7,452.0 L399.3,452.3 L399.8,452.7 L400.3,453.0 L400.9,453.3 L401.4,453.7 L401.9,454.0 L402.4,454.4 L403.0,454.8 L403.5,455.1 L404.0,455.5 L404.5,455.9 L405.0,456.3 L405.5,456.6 L406.0,457.0 L406.5,457.4 L407.0,457.8 L407.5,458.2 L408.0,458.6 L408.5,459.0 L409.0,459.4 L409.5,459.8 L410.0,460.2 L410.5,460.6 L411.0,461.0 L411.5,461.4 L412.0,461.8 L412.5,462.2 L413.0,462.6 L413.4,463.0 L413.9,463.4 L414.4,463.8 L414.9,464.2 L415.4,464.6 L415.9,465.0 L416.4,465.4 L416.9,465.8 L417.3,466.2 L417.8,466.7 L418.3,467.1 L418.8,467.5 L419.3,467.9 L419.8,468.3 L420.2,468.7 L420.7,469.1 L421.2,469.5 L421.7,470.0 L422.2,470.4 L422.6,470.8 L423.1,471.2 L423.6,471.6 L424.1,472.0 L424.5,472.5 L425.0,472.9 L425.5,473.3 L426.0,473.7 L426.4,474.2 L426.9,474.6 L427.4,475.0 L427.8,475.4 L428.3,475.9 L428.8,476.3 L429.2,476.7 L429.7,477.2 L430.2,477.6 L430.6,478.0 L431.1,478.5 L431.6,478.9 L432.0,479.3 L432.5,479.8 L432.9,480.2 L433.4,480.6 L433.9,481.1 L434.3,481.5 L434.8,482.0 L435.2,482.4 L435.7,482.8 L436.1,483.3 L436.6,483.7 L437.0,484.2 L437.5,484.6 L437.9,485.1 L438.4,485.5 L438.8,486.0 L439.3,486.4 L439.7,486.9 L440.2,487.3 L440.6,487.8 L441.1,488.2 L441.5,488.7 L442.0,489.1 L442.4,489.6 L442.9,490.0 L443.3,490.5 L443.7,490.9 L444.2,491.4 L444.6,491.9 L445.0,492.3 L445.5,492.8 L445.9,493.2 L446.4,493.7 L446.8,494.2 L447.2,494.6 L447.7,495.1 L448.1,495.6 L448.5,496.0 L448.9,496.5 L449.4,497.0 L449.8,497.4 L450.2,497.9 L450.7,498.4 L451.1,498.8 L451.5,499.3 L451.9,499.8 L452.4,500.2 L452.8,500.7 L453.2,501.2 L453.6,501.7 L454.1,502.1 L454.5,502.6 L454.9,503.1 L455.3,503.5 L455.8,504.0 L456.2,504.5 L456.6,504.9 L457.0,505.4 L457.5,505.9 L457.9,506.4 L458.3,506.8 L458.7,507.3 L459.2,507.8 L459.6,508.2 L460.0,508.7 L460.5,509.2 L460.9,509.6 L461.3,510.1 L461.7,510.6 L462.2,511.1 L462.6,511.5 L463.0,512.0 L463.4,512.5 L463.8,513.0 L464.3,513.4 L464.7,513.9 L465.1,514.4 L465.5,514.9 L465.9,515.4 L466.3,515.8 L466.7,516.3 L467.1,516.8 L467.6,517.3 L468.0,517.8 L468.4,518.3 L468.8,518.7 L469.2,519.2 L469.6,519.7 L470.0,520.2" fill="none" stroke="#0000ff" stroke-width="3.20" stroke-linejoin="round" stroke-linecap="round" stroke-dasharray="0 6.56" stroke-dashoffset="2.23"/>
<path d="M140.0,515.8 L140.1,515.2 L140.1,514.5 L140.2,513.9 L140.2,513.3 L140.3,512.6 L140.3,512.0 L140.4,511.4 L140.5,510.8 L140.5,510.1 L140.6,509.5 L140.7,508.9 L140.8,508.3 L140.9,507.7 L141.0,507.0 L141.1,506.4 L141.2,505.8 L141.4,505.2 L141.5,504.6 L141.7,504.0 L141.8,503.4 L142.0,502.8 L142.2,502.2 L142.4,501.7 L142.6,501.1 L142.9,500.5 L143.1,499.9 L143.3,499.3 L143.6,498.8 L143.9,498.2 L144.1,497.6 L144.4,497.1 L144.6,496.5 L144.9,495.9 L145.2,495.4 L145.4,494.8 L145.7,494.2 L145.9,493.6 L146.2,493.1 L146.4,492.5 L146.6,491.9 L146.9,491.3 L147.1,490.7 L147.3,490.1 L147.5,489.5 L147.7,489.0 L147.9,488.4 L148.1,487.8 L148.3,487.2 L148.5,486.6 L148.7,486.0 L148.8,485.4 L149.0,484.8 L149.2,484.2 L149.4,483.6 L149.6,483.0 L149.8,482.4 L150.0,481.8 L150.2,481.2 L150.4,480.6 L150.6,480.0 L150.8,479.5 L151.0,478.9 L151.2,478.3 L151.5,477.7 L151.7,477.1 L151.9,476.5 L152.2,476.0 L152.4,475.4 L152.6,474.8 L152.9,474.2 L153.1,473.7 L153.4,473.1 L153.6,472.5 L153.8,471.9 L154.1,471.3 L154.3,470.8 L154.5,470.2 L154.8,469.6 L155.0,469.0 L155.2,468.4 L155.5,467.9 L155.7,467.3 L155.9,466.7 L156.1,466.1 L156.3,465.5 L156.5,464.9 L156.7,464.3 L156.9,463.7 L157.1,463.2 L157.4,462.6 L157.6,462.0 L157.8,461.4 L158.0,460.8 L158.2,460.2 L158.4,459.6 L158.6,459.0 L158.8,458.5 L159.1,457.9 L159.3,457.3 L159.5,456.7 L159.8,456.1 L160.0,455.6 L160.3,455.0 L160.6,454.4 L160.8,453.9 L161.1,453.3 L161.4,452.8 L161.7,452.2 L162.0,451.7 L162.2,451.1 L162.5,450.6 L162.9,450.0 L163.2,449.5 L163.5,448.9 L163.8,448.4 L164.1,447.8 L164.4,447.3 L164.7,446.8 L165.1,446.2 L165.4,445.7 L165.7,445.1 L166.0,444.6 L166.4,444.1 L166.7,443.5 L167.0,443.0 L167.3,442.5 L167.6,441.9 L168.0,441.4 L168.3,440.9 L168.6,440.3 L168.9,439.8 L169.3,439.3 L169.6,438.7 L169.9,438.2 L170.3,437.7 L170.6,437.1 L170.9,436.6 L171.3,436.1 L171.6,435.6 L171.9,435.0 L172.3,434.5 L172.6,434.0 L173.0,433.5 L173.3,433.0 L173.7,432.5 L174.0,431.9 L174.4,431.4 L174.8,430.9 L175.1,430.4 L175.5,429.9 L175.9,429.4 L176.2,428.9 L176.6,428.4 L177.0,427.9 L177.4,427.4 L177.7,426.9 L178.1,426.4 L178.5,425.9 L178.9,425.5 L179.3,425.0 L179.7,424.5 L180.1,424.0 L180.5,423.5 L180.9,423.0 L181.3,422.6 L181.8,422.1 L182.2,421.6 L182.6,421.2 L183.0,420.7 L183.5,420.3 L183.9,419.8 L184.3,419.4 L184.8,418.9 L185.2,418.5 L185.7,418.1 L186.2,417.7 L186.6,417.3 L187.1,416.9 L187.6,416.5 L188.1,416.1 L188.6,415.7 L189.1,415.4 L189.6,415.0 L190.1,414.7 L190.7,414.3 L191.2,414.0 L191.7,413.7 L192.3,413.3 L192.8,413.0 L193.3,412.7 L193.9,412.4 L194.4,412.1 L195.0,411.8 L195.5,411.5 L196.1,411.2 L196.6,410.9 L197.2,410.6 L197.8,410.3 L198.3,410.0 L198.9,409.7 L199.4,409.4 L200.0,409.1 L200.5,408.9 L201.1,408.6 L201.6,408.3 L202.2,408.0 L202.8,407.7 L203.3,407.4 L203.9,407.1 L204.4,406.9 L205.0,406.6 L205.6,406.3 L206.1,406.1 L206.7,405.8 L207.3,405.6 L207.8,405.3 L208.4,405.1 L209.0,404.9 L209.6,404.7 L210.2,404.4 L210.8,404.2 L211.4,404.0 L211.9,403.8 L212.5,403.7 L213.1,403.5 L213.7,403.3 L214.4,403.2 L215.0,403.0 L215.6,402.9 L216.2,402.7 L216.8,402.6 L217.4,402.5 L218.0,402.3 L218.6,402.2 L219.3,402.1 L219.9,402.0 L220.5,401.9 L221.1,401.8 L221.7,401.7 L222.3,401.7 L223.0,401.6 L223.6,401.5 L224.2,401.4 L224.8,401.4 L225.5,401.3 L226.1,401.3 L226.7,401.2 L227.3,401.2 L227.9,401.1 L228.6,401.1 L229.2,401.0 L229.8,401.0 L230.4,401.0 L231.1,400.9 L231.7,400.9 L232.3,400.9 L232.9,400.9 L233.6,400.8 L234.2,400.8 L234.8,400.8 L235.4,400.8 L236.1,400.8 L236.7,400.8 L237.3,400.8 L237.9,400.8 L238.6,400.7 L239.2,400.7 L239.8,400.7 L240.4,400.7 L241.1,400.7 L241.7,400.8 L242.3,400.8 L242.9,400.8 L243.6,400.8 L244.2,400.8 L244.8,400.8 L245.4,400.8 L246.1,400.8 L246.7,400.8 L247.3,400.9 L247.9,400.9 L248.6,400.9 L249.2,400.9 L249.8,401.0 L250.4,401.0 L251.1,401.0 L251.7,401.0 L252.3,401.1 L252.9,401.1 L253.5,401.1 L254.2,401.2 L254.8,401.2 L255.4,401.2 L256.0,401.3 L256.7,401.3 L257.3,401.4 L257.9,401.4 L258.5,401.5 L259.2,401.5 L259.8,401.6 L260.4,401.6 L261.0,401.7 L261.6,401.7 L262.3,401.8 L262.9,401.8 L263.5,401.9 L264.1,402.0 L264.8,402.0 L265.4,402.1 L266.0,402.1 L266.6,402.2 L267.2,402.3 L267.9,402.3 L268.5,402.4 L269.1,402.4 L269.7,402.5 L270.4,402.6 L271.0,402.6 L271.6,402.7 L272.2,402.8 L272.8,402.8 L273.5,402.9 L274.1,402.9 L274.7,403.0 L275.3,403.0 L276.0,403.1 L276.6,403.2 L277.2,403.2 L277.8,403.3 L278.4,403.3 L279.1,403.4 L279.7,403.5 L280.3,403.5 L280.9,403.6 L281.5,403.7 L282.2,403.8 L282.8,403.8 L283.4,403.9 L284.0,404.0 L284.6,404.1 L285.3,404.2 L285.9,404.3 L286.5,404.4 L287.1,404.5 L287.7,404.6 L288.3,404.7 L289.0,404.8 L289.6,404.9 L290.2,405.0 L290.8,405.1 L291.4,405.3 L292.0,405.4 L292.6,405.5 L293.3,405.6 L293.9,405.7 L294.5,405.9 L295.1,406.0 L295.7,406.1 L296.3,406.2 L296.9,406.3 L297.5,406.5 L298.2,406.6 L298.8,406.7 L299.4,406.9 L300.0,407.0 L300.6,407.1 L301.2,407.2 L301.8,407.4 L302.4,407.5 L303.0,407.6 L303.7,407.8 L304.3,407.9 L304.9,408.0 L305.5,408.2 L306.1,408.3 L306.7,408.5 L307.3,408.6 L307.9,408.7 L308.5,408.9 L309.1,409.0 L309.7,409.2 L310.3,409.3 L310.9,409.5 L311.6,409.6 L312.2,409.8 L312.8,409.9 L313.4,410.1 L314.0,410.3 L314.6,410.4 L315.2,410.6 L315.8,410.8 L316.4,410.9 L317.0,411.1 L317.6,411.3 L318.2,411.4 L318.8,411.6 L319.4,411.8 L320.0,412.0 L320.6,412.2 L321.2,412.4 L321.8,412.5 L322.4,412.7 L323.0,412.9 L323.6,413.1 L324.1,413.3 L324.7,413.5 L325.3,413.7 L325.9,413.9 L326.5,414.1 L327.1,414.3 L327.7,414.5 L328.3,414.7 L328.9,414.9 L329.5,415.1 L330.1,415.3 L330.6,415.5 L331.2,415.8 L331.8,416.0 L332.4,416.2 L333.0,416.4 L333.6,416.6 L334.2,416.8 L334.8,417.0 L335.4,417.2 L335.9,417.4 L336.5,417.6 L337.1,417.9 L337.7,418.1 L338.3,418.3 L338.9,418.5 L339.5,418.7 L340.0,418.9 L340.6,419.2 L341.2,419.4 L341.8,419.6 L342.4,419.8 L343.0,420.1 L343.5,420.3 L344.1,420.5 L344.7,420.8 L345.3,421.0 L345.9,421.2 L346.4,421.5 L347.0,421.7 L347.6,422.0 L348.2,422.2 L348.7,422.4 L349.3,422.7 L349.9,422.9 L350.5,423.2 L351.0,423.4 L351.6,423.6 L352.2,423.9 L352.8,424.1 L353.4,424.4 L353.9,424.6 L354.5,424.8 L355.1,425.0 L355.7,425.3 L356.3,425.5 L356.9,425.7 L357.4,425.9 L358.0,426.1 L358.6,426.3 L359.2,426.5 L359.8,426.7 L360.4,426.9 L361.0,427.2 L361.6,427.4 L362.2,427.6 L362.7,427.8 L363.3,428.0 L363.9,428.2 L364.5,428.5 L365.1,428.7 L365.6,428.9 L366.2,429.2 L366.8,429.4 L367.4,429.7 L367.9,430.0 L368.5,430.2 L369.0,430.5 L369.6,430.8 L370.2,431.1 L370.7,431.4 L371.3,431.7 L371.8,432.0 L372.4,432.3 L372.9,432.6 L373.4,432.9 L374.0,433.2 L374.5,433.5 L375.1,433.8 L375.6,434.1 L376.1,434.5 L376.7,434.8 L377.2,435.1 L377.7,435.5 L378.3,435.8 L378.8,436.1 L379.3,436.5 L379.9,436.8 L380.4,437.1 L380.9,437.5 L381.4,437.8 L381.9,438.1 L382.5,438.5 L383.0,438.8 L383.5,439.2 L384.0,439.5 L384.6,439.9 L385.1,440.2 L385.6,440.6 L386.1,440.9 L386.6,441.3 L387.2,441.6 L387.7,442.0 L388.2,442.3 L388.7,442.6 L389.2,443.0 L389.7,443.4 L390.3,443.7 L390.8,444.1 L391.3,444.4 L391.8,444.8 L392.3,445.1 L392.8,445.5 L393.3,445.8 L393.9,446.2 L394.4,446.6 L394.9,446.9 L395.4,447.3 L395.9,447.6 L396.4,448.0 L396.9,448.4 L397.4,448.8 L397.9,449.1 L398.4,449.5 L398.9,449.9 L399.4,450.3 L399.9,450.6 L400.4,451.0 L400.9,451.4 L401.4,451.8 L401.9,452.2 L402.3,452.6 L402.8,453.0 L403.3,453.3 L403.8,453.7 L404.3,454.1 L404.8,454.5 L405.3,454.9 L405.7,455.3 L406.2,455.7 L406.7,456.1 L407.2,456.5 L407.7,456.9 L408.1,457.3 L408.6,457.7 L409.1,458.1 L409.6,458.5 L410.1,458.9 L410.6,459.3 L411.0,459.7 L411.5,460.1 L412.0,460.5 L412.5,460.9 L412.9,461.3 L413.4,461.7 L413.9,462.1 L414.4,462.5 L414.9,462.9 L415.3,463.3 L415.8,463.7 L416.3,464.1 L416.8,464.5 L417.2,464.9 L417.7,465.3 L418.2,465.7 L418.7,466.1 L419.1,466.6 L419.6,467.0 L420.1,467.4 L420.6,467.8 L421.0,468.2 L421.5,468.6 L422.0,469.0 L422.5,469.4 L422.9,469.8 L423.4,470.2 L423.9,470.7 L424.3,471.1 L424.8,471.5 L425.3,471.9 L425.7,472.3 L426.2,472.8 L426.6,473.2 L427.1,473.6 L427.6,474.0 L428.0,474.4 L428.5,474.9 L428.9,475.3 L429.4,475.7 L429.8,476.1 L430.3,476.6 L430.8,477.0 L431.2,477.4 L431.7,477.9 L432.1,478.3 L432.6,478.7 L433.0,479.2 L433.5,479.6 L433.9,480.0 L434.4,480.5 L434.8,480.9 L435.2,481.3 L435.7,481.8 L436.1,482.2 L436.6,482.7 L437.0,483.1 L437.5,483.5 L437.9,484.0 L438.3,484.4 L438.8,484.9 L439.2,485.3 L439.6,485.8 L440.1,486.2 L440.5,486.7 L440.9,487.1 L441.4,487.6 L441.8,488.0 L442.2,488.5 L442.7,488.9 L443.1,489.4 L443.5,489.8 L444.0,490.3 L444.4,490.8 L444.8,491.2 L445.2,491.7 L445.7,492.1 L446.1,492.6 L446.5,493.0 L446.9,493.5 L447.4,494.0 L447.8,494.4 L448.2,494.9 L448.6,495.4 L449.0,495.8 L449.5,496.3 L449.9,496.7 L450.3,497.2 L450.7,497.7 L451.1,498.1 L451.5,498.6 L452.0,499.1 L452.4,499.5 L452.8,500.0 L453.2,500.5 L453.6,500.9 L454.0,501.4 L454.4,501.9 L454.9,502.3 L455.3,502.8 L455.7,503.3 L456.1,503.7 L456.5,504.2 L456.9,504.7 L457.3,505.1 L457.8,505.6 L458.2,506.1 L458.6,506.6 L459.0,507.0 L459.4,507.5 L459.8,508.0 L460.2,508.4 L460.6,508.9 L461.1,509.4 L461.5,509.8 L461.9,510.3 L462.3,510.8 L462.7,511.3 L463.1,511.7 L463.5,512.2 L463.9,512.7 L464.3,513.1 L464.7,513.6 L465.1,514.1 L465.6,514.6 L466.0,515.0 L466.4,515.5 L466.8,516.0 L467.2,516.5 L467.6,516.9 L468.0,517.4 L468.4,517.9 L468.8,518.4 L469.2,518.8 L469.6,519.3 L470.0,519.8" fill="none" stroke="#0000ff" stroke-width="2.50" stroke-linejoin="round" stroke-linecap="round" stroke-dasharray="10.40 14.60" stroke-dashoffset="10.79"/>
<path d="M174.7,515.8 L174.8,515.7 L174.8,515.6 L174.9,515.5 L174.9,515.4 L175.0,515.3 L175.0,515.2 L175.1,515.1 L175.1,515.0 L175.2,514.9 L175.3,514.8 L175.3,514.7 L175.4,514.6 L175.4,514.5 L175.5,514.4 L175.5,514.3 L175.6,514.2 L175.6,514.1 L175.7,514.0 L175.8,513.9 L175.8,513.8 L175.9,513.7 L175.9,513.6 L176.0,513.5 L176.1,513.4 L176.1,513.3 L176.2,513.2 L176.2,513.1 L176.3,513.0 L176.4,512.9 L176.4,512.8 L176.5,512.7 L176.5,512.6 L176.6,512.5 L176.7,512.4 L176.7,512.3 L176.8,512.2 L176.8,512.1 L176.9,512.0 L177.0,511.9 L177.0,511.9 L177.1,511.8 L177.2,511.7 L177.2,511.6 L177.3,511.5 L177.4,511.4 L177.4,511.3 L177.5,511.2 L177.6,511.1 L177.7,511.0 L177.7,510.9 L177.8,510.9 L177.9,510.8 L177.9,510.7 L178.0,510.6 L178.1,510.5 L178.2,510.4 L178.2,510.3 L178.3,510.2 L178.4,510.2 L178.5,510.1 L178.5,510.0 L178.6,509.9 L178.7,509.8 L178.8,509.7 L178.9,509.6 L178.9,509.6 L179.0,509.5 L179.1,509.4 L179.2,509.3 L179.2,509.2 L179.3,509.1 L179.4,509.1 L179.5,509.0 L179.6,508.9 L179.6,508.8 L179.7,508.7 L179.8,508.7 L179.9,508.6 L180.0,508.5 L180.1,508.4 L180.1,508.3 L180.2,508.3 L180.3,508.2 L180.4,508.1 L180.5,508.0 L180.6,507.9 L180.6,507.9 L180.7,507.8 L180.8,507.7 L180.9,507.6 L181.0,507.5 L181.1,507.5 L181.2,507.4 L181.2,507.3 L181.3,507.2 L181.4,507.2 L181.5,507.1 L181.6,507.0 L181.7,506.9 L181.8,506.9 L181.9,506.8 L181.9,506.7 L182.0,506.6 L182.1,506.6 L182.2,506.5 L182.3,506.4 L182.4,506.3 L182.5,506.3 L182.6,506.2 L182.6,506.1 L182.7,506.0 L182.8,506.0 L182.9,505.9 L183.0,505.8 L183.1,505.8 L183.2,505.7 L183.3,505.6 L183.4,505.5 L183.5,505.5 L183.6,505.4 L183.6,505.3 L183.7,505.3 L183.8,505.2 L183.9,505.1 L184.0,505.1 L184.1,505.0 L184.2,504.9 L184.3,504.9 L184.4,504.8 L184.5,504.7 L184.6,504.7 L184.7,504.6 L184.8,504.6 L184.9,504.5 L185.0,504.4 L185.1,504.4 L185.2,504.3 L185.3,504.2 L185.4,504.2 L185.5,504.1 L185.6,504.1 L185.7,504.0 L185.8,504.0 L185.9,503.9 L186.0,503.8 L186.1,503.8 L186.2,503.7 L186.3,503.7 L186.4,503.6 L186.5,503.6 L186.6,503.5 L186.7,503.5 L186.8,503.4 L186.9,503.4 L187.0,503.3 L187.1,503.3 L187.2,503.2 L187.3,503.2 L187.4,503.1 L187.5,503.1 L187.6,503.0 L187.7,503.0 L187.8,502.9 L187.9,502.9 L188.0,502.9 L188.1,502.8 L188.2,502.8 L188.3,502.7 L188.4,502.7 L188.5,502.6 L188.7,502.6 L188.8,502.6 L188.9,502.5 L189.0,502.5 L189.1,502.4 L189.2,502.4 L189.3,502.4 L189.4,502.3 L189.5,502.3 L189.6,502.3 L189.7,502.2 L189.9,502.2 L190.0,502.2 L190.1,502.1 L190.2,502.1 L190.3,502.1 L190.4,502.0 L190.5,502.0 L190.6,502.0 L190.7,501.9 L190.8,501.9 L191.0,501.9 L191.1,501.8 L191.2,501.8 L191.3,501.8 L191.4,501.8 L191.5,501.7 L191.6,501.7 L191.7,501.7 L191.9,501.7 L192.0,501.6 L192.1,501.6 L192.2,501.6 L192.3,501.6 L192.4,501.5 L192.5,501.5 L192.6,501.5 L192.8,501.5 L192.9,501.4 L193.0,501.4 L193.1,501.4 L193.2,501.4 L193.3,501.3 L193.4,501.3 L193.6,501.3 L193.7,501.3 L193.8,501.3 L193.9,501.2 L194.0,501.2 L194.1,501.2 L194.2,501.2 L194.4,501.2 L194.5,501.2 L194.6,501.1 L194.7,501.1 L194.8,501.1 L194.9,501.1 L195.0,501.1 L195.2,501.1 L195.3,501.0 L195.4,501.0 L195.5,501.0 L195.6,501.0 L195.7,501.0 L195.8,501.0 L196.0,501.0 L196.1,501.0 L196.2,500.9 L196.3,500.9 L196.4,500.9 L196.5,500.9 L196.6,500.9 L196.8,500.9 L196.9,500.9 L197.0,500.9 L197.1,500.9 L197.2,500.9 L197.3,500.8 L197.4,500.8 L197.6,500.8 L197.7,500.8 L197.8,500.8 L197.9,500.8 L198.0,500.8 L198.1,500.8 L198.2,500.8 L198.4,500.8 L198.5,500.8 L198.6,500.8 L198.7,500.8 L198.8,500.8 L198.9,500.8 L199.0,500.8 L199.2,500.8 L199.3,500.8 L199.4,500.8 L199.5,500.8 L199.6,500.8 L199.7,500.8 L199.8,500.8 L200.0,500.8 L200.1,500.8 L200.2,500.8 L200.3,500.8 L200.4,500.8 L200.5,500.8 L200.6,500.8 L200.8,500.8 L200.9,500.8 L201.0,500.9 L201.1,500.9 L201.2,500.9 L201.3,500.9 L201.4,500.9 L201.6,500.9 L201.7,500.9 L201.8,500.9 L201.9,500.9 L202.0,501.0 L202.1,501.0 L202.2,501.0 L202.4,501.0 L202.5,501.0 L202.6,501.0 L202.7,501.0 L202.8,501.1 L202.9,501.1 L203.0,501.1 L203.1,501.1 L203.3,501.1 L203.4,501.1 L203.5,501.2 L203.6,501.2 L203.7,501.2 L203.8,501.2 L203.9,501.2 L204.1,501.3 L204.2,501.3 L204.3,501.3 L204.4,501.3 L204.5,501.3 L204.6,501.4 L204.7,501.4 L204.8,501.4 L205.0,501.4 L205.1,501.5 L205.2,501.5 L205.3,501.5 L205.4,501.5 L205.5,501.5 L205.6,501.6 L205.7,501.6 L205.9,501.6 L206.0,501.6 L206.1,501.7 L206.2,501.7 L206.3,501.7 L206.4,501.8 L206.5,501.8 L206.6,501.8 L206.8,501.8 L206.9,501.9 L207.0,501.9 L207.1,501.9 L207.2,501.9 L207.3,502.0 L207.4,502.0 L207.5,502.0 L207.7,502.1 L207.8,502.1 L207.9,502.1 L208.0,502.1 L208.1,502.2 L208.2,502.2 L208.3,502.2 L208.4,502.3 L208.5,502.3 L208.7,502.3 L208.8,502.4 L208.9,502.4 L209.0,502.4 L209.1,502.5 L209.2,502.5 L209.3,502.5 L209.4,502.5 L209.5,502.6 L209.6,502.6 L209.8,502.6 L209.9,502.7 L210.0,502.7 L210.1,502.7 L210.2,502.8 L210.3,502.8 L210.4,502.8 L210.5,502.9 L210.6,502.9 L210.7,502.9 L210.9,503.0 L211.0,503.0 L211.1,503.0 L211.2,503.1 L211.3,503.1 L211.4,503.1 L211.5,503.2 L211.6,503.2 L211.7,503.3 L211.8,503.3 L211.9,503.3 L212.1,503.4 L212.2,503.4 L212.3,503.4 L212.4,503.5 L212.5,503.5 L212.6,503.5 L212.7,503.6 L212.8,503.6 L212.9,503.7 L213.0,503.7 L213.1,503.7 L213.2,503.8 L213.4,503.8 L213.5,503.8 L213.6,503.9 L213.7,503.9 L213.8,504.0 L213.9,504.0 L214.0,504.0 L214.1,504.1 L214.2,504.1 L214.3,504.2 L214.4,504.2 L214.5,504.2 L214.6,504.3 L214.8,504.3 L214.9,504.4 L215.0,504.4 L215.1,504.4 L215.2,504.5 L215.3,504.5 L215.4,504.6 L215.5,504.6 L215.6,504.6 L215.7,504.7 L215.8,504.7 L215.9,504.8 L216.0,504.8 L216.1,504.9 L216.2,504.9 L216.4,504.9 L216.5,505.0 L216.6,505.0 L216.7,505.1 L216.8,505.1 L216.9,505.2 L217.0,505.2 L217.1,505.2 L217.2,505.3 L217.3,505.3 L217.4,505.4 L217.5,505.4 L217.6,505.5 L217.7,505.5 L217.8,505.5 L217.9,505.6 L218.1,505.6 L218.2,505.7 L218.3,505.7 L218.4,505.8 L218.5,505.8 L218.6,505.9 L218.7,505.9 L218.8,505.9 L218.9,506.0 L219.0,506.0 L219.1,506.1 L219.2,506.1 L219.3,506.2 L219.4,506.2 L219.5,506.3 L219.6,506.3 L219.7,506.4 L219.8,506.4 L219.9,506.4 L220.1,506.5 L220.2,506.5 L220.3,506.6 L220.4,506.6 L220.5,506.7 L220.6,506.7 L220.7,506.8 L220.8,506.8 L220.9,506.9 L221.0,506.9 L221.1,506.9 L221.2,507.0 L221.3,507.0 L221.4,507.1 L221.5,507.1 L221.6,507.2 L221.7,507.2 L221.8,507.3 L221.9,507.3 L222.1,507.4 L222.2,507.4 L222.3,507.5 L222.4,507.5 L222.5,507.5 L222.6,507.6 L222.7,507.6 L222.8,507.7 L222.9,507.7 L223.0,507.8 L223.1,507.8 L223.2,507.9 L223.3,507.9 L223.4,508.0 L223.5,508.0 L223.6,508.0 L223.7,508.1 L223.8,508.1 L223.9,508.2 L224.1,508.2 L224.2,508.3 L224.3,508.3 L224.4,508.4 L224.5,508.4 L224.6,508.4 L224.7,508.5 L224.8,508.5 L224.9,508.6 L225.0,508.6 L225.1,508.7 L225.2,508.7 L225.3,508.8 L225.4,508.8 L225.5,508.8 L225.6,508.9 L225.7,508.9 L225.8,509.0 L226.0,509.0 L226.1,509.1 L226.2,509.1 L226.3,509.2 L226.4,509.2 L226.5,509.2 L226.6,509.3 L226.7,509.3 L226.8,509.4 L226.9,509.4 L227.0,509.5 L227.1,509.5 L227.2,509.5 L227.3,509.6 L227.4,509.6 L227.5,509.7 L227.7,509.7 L227.8,509.8 L227.9,509.8 L228.0,509.8 L228.1,509.9 L228.2,509.9 L228.3,510.0 L228.4,510.0 L228.5,510.1 L228.6,510.1 L228.7,510.1 L228.8,510.2 L228.9,510.2 L229.0,510.3 L229.1,510.3 L229.2,510.4 L229.4,510.4 L229.5,510.4 L229.6,510.5 L229.7,510.5 L229.8,510.6 L229.9,510.6 L230.0,510.7 L230.1,510.7 L230.2,510.7 L230.3,510.8 L230.4,510.8 L230.5,510.9 L230.6,510.9 L230.7,510.9 L230.8,511.0 L231.0,511.0 L231.1,511.1 L231.2,511.1 L231.3,511.1 L231.4,511.2 L231.5,511.2 L231.6,511.3 L231.7,511.3 L231.8,511.4 L231.9,511.4 L232.0,511.4 L232.1,511.5 L232.2,511.5 L232.3,511.6 L232.5,511.6 L232.6,511.6 L232.7,511.7 L232.8,511.7 L232.9,511.8 L233.0,511.8 L233.1,511.8 L233.2,511.9 L233.3,511.9 L233.4,512.0 L233.5,512.0 L233.6,512.0 L233.7,512.1 L233.9,512.1 L234.0,512.2 L234.1,512.2 L234.2,512.2 L234.3,512.3 L234.4,512.3 L234.5,512.3 L234.6,512.4 L234.7,512.4 L234.8,512.5 L234.9,512.5 L235.0,512.5 L235.1,512.6 L235.3,512.6 L235.4,512.7 L235.5,512.7 L235.6,512.7 L235.7,512.8 L235.8,512.8 L235.9,512.8 L236.0,512.9 L236.1,512.9 L236.2,513.0 L236.3,513.0 L236.4,513.0 L236.6,513.1 L236.7,513.1 L236.8,513.1 L236.9,513.2 L237.0,513.2 L237.1,513.3 L237.2,513.3 L237.3,513.3 L237.4,513.4 L237.5,513.4 L237.6,513.4 L237.8,513.5 L237.9,513.5 L238.0,513.5 L238.1,513.6 L238.2,513.6 L238.3,513.6 L238.4,513.7 L238.5,513.7 L238.6,513.7 L238.7,513.8 L238.8,513.8 L239.0,513.8 L239.1,513.9 L239.2,513.9 L239.3,513.9 L239.4,514.0 L239.5,514.0 L239.6,514.0 L239.7,514.1 L239.8,514.1 L239.9,514.1 L240.1,514.2 L240.2,514.2 L240.3,514.2 L240.4,514.3 L240.5,514.3 L240.6,514.3 L240.7,514.4 L240.8,514.4 L240.9,514.4 L241.0,514.5 L241.2,514.5 L241.3,514.5 L241.4,514.5 L241.5,514.6 L241.6,514.6 L241.7,514.6 L241.8,514.7 L241.9,514.7 L242.0,514.7 L242.2,514.7 L242.3,514.8 L242.4,514.8 L242.5,514.8 L242.6,514.9 L242.7,514.9 L242.8,514.9 L242.9,514.9 L243.0,515.0 L243.2,515.0 L243.3,515.0 L243.4,515.1 L243.5,515.1 L243.6,515.1 L243.7,515.1 L243.8,515.2 L243.9,515.2 L244.0,515.2 L244.2,515.2 L244.3,515.3 L244.4,515.3 L244.5,515.3 L244.6,515.4 L244.7,515.4 L244.8,515.4 L244.9,515.4 L245.0,515.5 L245.2,515.5 L245.3,515.5 L245.4,515.5 L245.5,515.6 L245.6,515.6 L245.7,515.6 L245.8,515.6 L245.9,515.7 L246.1,515.7 L246.2,515.7 L246.3,515.7 L246.4,515.8 L246.5,515.8" fill="none" stroke="#0000ff" stroke-width="2.50" stroke-linejoin="round" stroke-linecap="round"/>
<path d="M293.0,515.8 L293.2,515.7 L293.4,515.7 L293.6,515.6 L293.8,515.6 L294.0,515.5 L294.2,515.4 L294.4,515.4 L294.6,515.3 L294.9,515.2 L295.1,515.2 L295.3,515.1 L295.5,515.1 L295.7,515.0 L295.9,514.9 L296.1,514.9 L296.3,514.8 L296.5,514.8 L296.7,514.7 L296.9,514.6 L297.1,514.6 L297.3,514.5 L297.5,514.4 L297.7,514.4 L297.9,514.3 L298.1,514.3 L298.3,514.2 L298.5,514.1 L298.8,514.1 L299.0,514.0 L299.2,513.9 L299.4,513.9 L299.6,513.8 L299.8,513.8 L300.0,513.7 L300.2,513.6 L300.4,513.6 L300.6,513.5 L300.8,513.4 L301.0,513.4 L301.2,513.3 L301.4,513.3 L301.6,513.2 L301.8,513.1 L302.0,513.1 L302.2,513.0 L302.4,512.9 L302.7,512.9 L302.9,512.8 L303.1,512.7 L303.3,512.7 L303.5,512.6 L303.7,512.5 L303.9,512.5 L304.1,512.4 L304.3,512.3 L304.5,512.3 L304.7,512.2 L304.9,512.1 L305.1,512.1 L305.3,512.0 L305.5,511.9 L305.7,511.9 L305.9,511.8 L306.1,511.7 L306.3,511.7 L306.5,511.6 L306.7,511.5 L306.9,511.4 L307.1,511.4 L307.3,511.3 L307.5,511.2 L307.7,511.2 L307.9,511.1 L308.1,511.0 L308.3,511.0 L308.6,510.9 L308.8,510.8 L309.0,510.7 L309.2,510.7 L309.4,510.6 L309.6,510.5 L309.8,510.5 L310.0,510.4 L310.2,510.3 L310.4,510.2 L310.6,510.2 L310.8,510.1 L311.0,510.0 L311.2,510.0 L311.4,509.9 L311.6,509.8 L311.8,509.7 L312.0,509.7 L312.2,509.6 L312.4,509.5 L312.6,509.5 L312.8,509.4 L313.0,509.3 L313.2,509.2 L313.4,509.2 L313.6,509.1 L313.8,509.0 L314.0,509.0 L314.2,508.9 L314.4,508.8 L314.6,508.8 L314.8,508.7 L315.0,508.6 L315.2,508.5 L315.4,508.5 L315.6,508.4 L315.8,508.3 L316.0,508.3 L316.2,508.2 L316.5,508.1 L316.7,508.1 L316.9,508.0 L317.1,507.9 L317.3,507.8 L317.5,507.8 L317.7,507.7 L317.9,507.6 L318.1,507.6 L318.3,507.5 L318.5,507.4 L318.7,507.4 L318.9,507.3 L319.1,507.2 L319.3,507.1 L319.5,507.1 L319.7,507.0 L319.9,506.9 L320.1,506.9 L320.3,506.8 L320.5,506.7 L320.7,506.7 L320.9,506.6 L321.1,506.5 L321.3,506.4 L321.5,506.4 L321.7,506.3 L321.9,506.2 L322.1,506.1 L322.3,506.1 L322.5,506.0 L322.7,505.9 L322.9,505.9 L323.1,505.8 L323.3,505.7 L323.5,505.6 L323.7,505.6 L323.9,505.5 L324.1,505.4 L324.3,505.3 L324.5,505.3 L324.7,505.2 L324.9,505.1 L325.1,505.0 L325.3,505.0 L325.5,504.9 L325.7,504.8 L325.9,504.7 L326.1,504.6 L326.3,504.6 L326.5,504.5 L326.7,504.4 L326.9,504.3 L327.1,504.3 L327.3,504.2 L327.5,504.1 L327.7,504.0 L327.9,503.9 L328.1,503.9 L328.3,503.8 L328.5,503.7 L328.7,503.6 L328.9,503.5 L329.1,503.5 L329.3,503.4 L329.5,503.3 L329.7,503.2 L329.9,503.2 L330.1,503.1 L330.3,503.0 L330.5,502.9 L330.7,502.9 L330.9,502.8 L331.1,502.7 L331.4,502.6 L331.6,502.5 L331.8,502.5 L332.0,502.4 L332.2,502.3 L332.4,502.2 L332.6,502.2 L332.8,502.1 L333.0,502.0 L333.2,502.0 L333.4,501.9 L333.6,501.8 L333.8,501.7 L334.0,501.7 L334.2,501.6 L334.4,501.5 L334.6,501.5 L334.8,501.4 L335.0,501.3 L335.2,501.3 L335.4,501.2 L335.6,501.1 L335.8,501.1 L336.0,501.0 L336.2,500.9 L336.4,500.9 L336.6,500.8 L336.8,500.7 L337.0,500.7 L337.2,500.6 L337.4,500.5 L337.6,500.5 L337.9,500.4 L338.1,500.4 L338.3,500.3 L338.5,500.2 L338.7,500.2 L338.9,500.1 L339.1,500.0 L339.3,500.0 L339.5,499.9 L339.7,499.9 L339.9,499.8 L340.1,499.8 L340.3,499.7 L340.5,499.6 L340.7,499.6 L340.9,499.5 L341.2,499.5 L341.4,499.4 L341.6,499.4 L341.8,499.3 L342.0,499.2 L342.2,499.2 L342.4,499.1 L342.6,499.1 L342.8,499.0 L343.0,499.0 L343.2,498.9 L343.4,498.9 L343.6,498.8 L343.9,498.8 L344.1,498.7 L344.3,498.7 L344.5,498.6 L344.7,498.6 L344.9,498.5 L345.1,498.5 L345.3,498.4 L345.5,498.3 L345.7,498.3 L345.9,498.3 L346.1,498.2 L346.4,498.2 L346.6,498.1 L346.8,498.1 L347.0,498.0 L347.2,498.0 L347.4,497.9 L347.6,497.9 L347.8,497.8 L348.0,497.8 L348.2,497.7 L348.5,497.7 L348.7,497.6 L348.9,497.6 L349.1,497.5 L349.3,497.5 L349.5,497.5 L349.7,497.4 L349.9,497.4 L350.1,497.3 L350.3,497.3 L350.6,497.3 L350.8,497.2 L351.0,497.2 L351.2,497.1 L351.4,497.1 L351.6,497.0 L351.8,497.0 L352.0,497.0 L352.2,496.9 L352.5,496.9 L352.7,496.9 L352.9,496.8 L353.1,496.8 L353.3,496.7 L353.5,496.7 L353.7,496.7 L353.9,496.6 L354.1,496.6 L354.4,496.6 L354.6,496.5 L354.8,496.5 L355.0,496.5 L355.2,496.4 L355.4,496.4 L355.6,496.4 L355.8,496.3 L356.1,496.3 L356.3,496.3 L356.5,496.3 L356.7,496.2 L356.9,496.2 L357.1,496.2 L357.3,496.1 L357.5,496.1 L357.8,496.1 L358.0,496.1 L358.2,496.0 L358.4,496.0 L358.6,496.0 L358.8,496.0 L359.0,495.9 L359.2,495.9 L359.5,495.9 L359.7,495.9 L359.9,495.8 L360.1,495.8 L360.3,495.8 L360.5,495.8 L360.7,495.7 L361.0,495.7 L361.2,495.7 L361.4,495.7 L361.6,495.6 L361.8,495.6 L362.0,495.6 L362.2,495.6 L362.5,495.6 L362.7,495.5 L362.9,495.5 L363.1,495.5 L363.3,495.5 L363.5,495.5 L363.7,495.4 L363.9,495.4 L364.2,495.4 L364.4,495.4 L364.6,495.4 L364.8,495.3 L365.0,495.3 L365.2,495.3 L365.4,495.3 L365.7,495.3 L365.9,495.3 L366.1,495.2 L366.3,495.2 L366.5,495.2 L366.7,495.2 L366.9,495.2 L367.2,495.2 L367.4,495.2 L367.6,495.1 L367.8,495.1 L368.0,495.1 L368.2,495.1 L368.4,495.1 L368.7,495.1 L368.9,495.1 L369.1,495.1 L369.3,495.1 L369.5,495.1 L369.7,495.0 L369.9,495.0 L370.2,495.0 L370.4,495.0 L370.6,495.0 L370.8,495.0 L371.0,495.0 L371.2,495.0 L371.4,495.0 L371.7,495.0 L371.9,495.0 L372.1,495.0 L372.3,495.0 L372.5,495.0 L372.7,495.0 L373.0,495.0 L373.2,495.0 L373.4,495.0 L373.6,495.0 L373.8,495.0 L374.0,495.0 L374.2,495.0 L374.5,495.0 L374.7,495.0 L374.9,495.0 L375.1,495.0 L375.3,495.1 L375.5,495.1 L375.7,495.1 L376.0,495.1 L376.2,495.1 L376.4,495.1 L376.6,495.1 L376.8,495.1 L377.0,495.1 L377.2,495.2 L377.5,495.2 L377.7,495.2 L377.9,495.2 L378.1,495.2 L378.3,495.2 L378.5,495.2 L378.7,495.3 L379.0,495.3 L379.2,495.3 L379.4,495.3 L379.6,495.3 L379.8,495.4 L380.0,495.4 L380.2,495.4 L380.5,495.4 L380.7,495.5 L380.9,495.5 L381.1,495.5 L381.3,495.5 L381.5,495.6 L381.7,495.6 L382.0,495.6 L382.2,495.6 L382.4,495.7 L382.6,495.7 L382.8,495.7 L383.0,495.8 L383.2,495.8 L383.4,495.8 L383.7,495.8 L383.9,495.9 L384.1,495.9 L384.3,495.9 L384.5,496.0 L384.7,496.0 L384.9,496.1 L385.1,496.1 L385.3,496.1 L385.6,496.2 L385.8,496.2 L386.0,496.2 L386.2,496.3 L386.4,496.3 L386.6,496.4 L386.8,496.4 L387.0,496.4 L387.2,496.5 L387.5,496.5 L387.7,496.6 L387.9,496.6 L388.1,496.7 L388.3,496.7 L388.5,496.8 L388.7,496.8 L388.9,496.8 L389.1,496.9 L389.3,496.9 L389.6,497.0 L389.8,497.0 L390.0,497.1 L390.2,497.1 L390.4,497.2 L390.6,497.2 L390.8,497.3 L391.0,497.3 L391.2,497.4 L391.4,497.4 L391.6,497.5 L391.9,497.5 L392.1,497.6 L392.3,497.7 L392.5,497.7 L392.7,497.8 L392.9,497.8 L393.1,497.9 L393.3,497.9 L393.5,498.0 L393.7,498.0 L393.9,498.1 L394.1,498.2 L394.3,498.2 L394.5,498.3 L394.8,498.3 L395.0,498.4 L395.2,498.5 L395.4,498.5 L395.6,498.6 L395.8,498.6 L396.0,498.7 L396.2,498.8 L396.4,498.8 L396.6,498.9 L396.8,498.9 L397.0,499.0 L397.2,499.1 L397.4,499.1 L397.6,499.2 L397.8,499.3 L398.0,499.3 L398.3,499.4 L398.5,499.5 L398.7,499.5 L398.9,499.6 L399.1,499.6 L399.3,499.7 L399.5,499.8 L399.7,499.8 L399.9,499.9 L400.1,500.0 L400.3,500.0 L400.5,500.1 L400.7,500.2 L400.9,500.3 L401.1,500.3 L401.3,500.4 L401.5,500.5 L401.7,500.5 L401.9,500.6 L402.1,500.7 L402.3,500.7 L402.5,500.8 L402.7,500.9 L402.9,501.0 L403.1,501.0 L403.3,501.1 L403.5,501.2 L403.7,501.2 L403.9,501.3 L404.1,501.4 L404.3,501.5 L404.6,501.5 L404.8,501.6 L405.0,501.7 L405.2,501.8 L405.4,501.8 L405.6,501.9 L405.8,502.0 L406.0,502.0 L406.2,502.1 L406.4,502.2 L406.6,502.3 L406.8,502.4 L407.0,502.4 L407.2,502.5 L407.4,502.6 L407.6,502.7 L407.8,502.7 L408.0,502.8 L408.2,502.9 L408.4,503.0 L408.6,503.0 L408.8,503.1 L409.0,503.2 L409.2,503.3 L409.4,503.4 L409.6,503.4 L409.8,503.5 L410.0,503.6 L410.2,503.7 L410.4,503.8 L410.6,503.8 L410.8,503.9 L411.0,504.0 L411.2,504.1 L411.4,504.2 L411.6,504.3 L411.7,504.3 L411.9,504.4 L412.1,504.5 L412.3,504.6 L412.5,504.7 L412.7,504.8 L412.9,504.8 L413.1,504.9 L413.3,505.0 L413.5,505.1 L413.7,505.2 L413.9,505.3 L414.1,505.3 L414.3,505.4 L414.5,505.5 L414.7,505.6 L414.9,505.7 L415.1,505.8 L415.3,505.9 L415.5,505.9 L415.7,506.0 L415.9,506.1 L416.1,506.2 L416.3,506.3 L416.5,506.4 L416.7,506.5 L416.9,506.5 L417.1,506.6 L417.3,506.7 L417.5,506.8 L417.7,506.9 L417.9,507.0 L418.0,507.1 L418.2,507.2 L418.4,507.3 L418.6,507.3 L418.8,507.4 L419.0,507.5 L419.2,507.6 L419.4,507.7 L419.6,507.8 L419.8,507.9 L420.0,508.0 L420.2,508.1 L420.4,508.2 L420.6,508.2 L420.8,508.3 L421.0,508.4 L421.2,508.5 L421.4,508.6 L421.6,508.7 L421.8,508.8 L421.9,508.9 L422.1,509.0 L422.3,509.1 L422.5,509.2 L422.7,509.2 L422.9,509.3 L423.1,509.4 L423.3,509.5 L423.5,509.6 L423.7,509.7 L423.9,509.8 L424.1,509.9 L424.3,510.0 L424.5,510.1 L424.7,510.2 L424.8,510.3 L425.0,510.4 L425.2,510.5 L425.4,510.5 L425.6,510.6 L425.8,510.7 L426.0,510.8 L426.2,510.9 L426.4,511.0 L426.6,511.1 L426.8,511.2 L427.0,511.3 L427.2,511.4 L427.4,511.5 L427.5,511.6 L427.7,511.7 L427.9,511.8 L428.1,511.9 L428.3,512.0 L428.5,512.1 L428.7,512.2 L428.9,512.3 L429.1,512.3 L429.3,512.4 L429.5,512.5 L429.7,512.6 L429.9,512.7 L430.0,512.8 L430.2,512.9 L430.4,513.0 L430.6,513.1 L430.8,513.2 L431.0,513.3 L431.2,513.4 L431.4,513.5 L431.6,513.6 L431.8,513.7 L432.0,513.8 L432.2,513.9 L432.4,514.0 L432.5,514.1 L432.7,514.2 L432.9,514.3 L433.1,514.4 L433.3,514.5 L433.5,514.5 L433.7,514.6 L433.9,514.7 L434.1,514.8 L434.3,514.9 L434.5,515.0 L434.7,515.1 L434.8,515.2 L435.0,515.3 L435.2,515.4 L435.4,515.5 L435.6,515.6 L435.8,515.7 L436.0,515.8" fill="none" stroke="#0000ff" stroke-width="2.50" stroke-linejoin="round" stroke-linecap="round"/>
</g>
<g stroke="#000" stroke-width="2.50" fill="none" stroke-linecap="butt">
<path d="M99.80,517.05 V172.40 H468"/>
<path d="M98.55,515.80 H468"/>
<path d="M142.69,515.80 v-6.40 M142.69,172.40 v6.40 M185.58,515.80 v-11.60 M185.58,172.40 v11.60 M228.47,515.80 v-6.40 M228.47,172.40 v6.40 M271.36,515.80 v-11.60 M271.36,172.40 v11.60 M314.25,515.80 v-6.40 M314.25,172.40 v6.40 M357.14,515.80 v-11.60 M357.14,172.40 v11.60 M400.03,515.80 v-6.40 M400.03,172.40 v6.40 M442.92,515.80 v-11.60 M442.92,172.40 v11.60 M485.81,515.80 v-6.40 M485.81,172.40 v6.40 M99.80,498.63 h6.40 M99.80,481.46 h6.40 M99.80,464.29 h6.40 M99.80,447.12 h11.60 M99.80,429.95 h6.40 M99.80,412.78 h6.40 M99.80,395.61 h6.40 M99.80,378.44 h11.60 M99.80,361.27 h6.40 M99.80,344.10 h6.40 M99.80,326.93 h6.40 M99.80,309.76 h11.60 M99.80,292.59 h6.40 M99.80,275.42 h6.40 M99.80,258.25 h6.40 M99.80,241.08 h11.60 M99.80,223.91 h6.40 M99.80,206.74 h6.40 M99.80,189.57 h6.40" stroke-width="2.3"/>
</g>
<g font-family="Liberation Sans, sans-serif" fill="#000">
<text transform="translate(86.30,522.00) scale(1,1.045)" font-size="21.00" text-anchor="end">0.00</text>
<text transform="translate(86.30,453.32) scale(1,1.045)" font-size="21.00" text-anchor="end">0.02</text>
<text transform="translate(86.30,384.64) scale(1,1.045)" font-size="21.00" text-anchor="end">0.04</text>
<text transform="translate(86.30,315.96) scale(1,1.045)" font-size="21.00" text-anchor="end">0.06</text>
<text transform="translate(86.30,247.28) scale(1,1.045)" font-size="21.00" text-anchor="end">0.08</text>
<text transform="translate(86.30,178.60) scale(1,1.045)" font-size="21.00" text-anchor="end">0.10</text>
<text transform="translate(99.20,545.40) scale(1,1.060)" font-size="21.00" text-anchor="middle">0.00</text>
<text transform="translate(184.98,545.40) scale(1,1.060)" font-size="21.00" text-anchor="middle">0.02</text>
<text transform="translate(270.76,545.40) scale(1,1.060)" font-size="21.00" text-anchor="middle">0.04</text>
<text transform="translate(356.54,545.40) scale(1,1.060)" font-size="21.00" text-anchor="middle">0.06</text>
<text transform="translate(442.32,545.40) scale(1,1.060)" font-size="21.00" text-anchor="middle">0.08</text>
<text transform="translate(178.30,208.00) scale(1,1.060)" font-size="20.60" text-anchor="start"><tspan font-style="italic">T</tspan> = 5 MeV</text>
<text transform="translate(301.30,208.00) scale(1,1.060)" font-size="20.60" text-anchor="start"><tspan font-style="italic">T</tspan> = 8 MeV</text>
<text transform="translate(423.80,208.00) scale(1,1.060)" font-size="20.60" text-anchor="start"><tspan font-style="italic">T</tspan> = </text>
</g>
<path d="M461.0,198.4 L464.5,194.9" stroke="#000" stroke-width="1.8" fill="none"/>
<path d="M201.50,226.85 h47" stroke="#ff0000" stroke-width="3.20" stroke-dasharray="0 6.56" stroke-linecap="round" fill="none"/>
<path d="M201.55,252.9 h47.2" stroke="#ff0000" stroke-width="2.50" stroke-linecap="round" fill="none"/>
<path d="M201.55,287.1 h47.2" stroke="#ff0000" stroke-width="2.50" stroke-dasharray="10.40 14.60" stroke-linecap="round" fill="none"/>
<path d="M314.90,226.85 h47" stroke="#008000" stroke-width="3.20" stroke-dasharray="0 6.56" stroke-linecap="round" fill="none"/>
<path d="M314.95,252.9 h47.2" stroke="#008000" stroke-width="2.50" stroke-linecap="round" fill="none"/>
<path d="M314.95,287.1 h47.2" stroke="#008000" stroke-width="2.50" stroke-dasharray="10.40 14.60" stroke-linecap="round" fill="none"/>
<path d="M428.40,226.85 h47" stroke="#0000ff" stroke-width="3.20" stroke-dasharray="0 6.56" stroke-linecap="round" fill="none"/>
<path d="M428.45,252.9 h47.2" stroke="#0000ff" stroke-width="2.50" stroke-linecap="round" fill="none"/>
<path d="M428.45,287.1 h47.2" stroke="#0000ff" stroke-width="2.50" stroke-dasharray="10.40 14.60" stroke-linecap="round" fill="none"/>
<text transform="translate(32.6,393.20) rotate(-90) scale(1,1.090)" font-family="Liberation Sans, sans-serif" font-size="30" fill="#000">Im(</text>
<text transform="translate(32.6,349.88) rotate(-90) scale(1,0.940)" font-family="Liberation Sans, sans-serif" font-size="30" fill="#000">ω</text>
<text transform="translate(32.6,326.46) rotate(-90) scale(1,1.090)" font-family="Liberation Sans, sans-serif" font-size="30" fill="#000">)/<tspan font-style="italic">k</tspan></text>
<text transform="translate(0,585.3) scale(1,1.070)" font-family="Liberation Sans, sans-serif" font-size="30" fill="#000"><tspan x="299.3" y="0" font-style="italic">ρ</tspan><tspan x="314.3" y="5.0" font-size="22.5">b</tspan><tspan x="343.6" y="0">(fm</tspan><tspan x="386.8" y="-12.3" font-size="20.8">-3</tspan><tspan x="404.2" y="0">)</tspan></text>
</svg>
</body></html>
